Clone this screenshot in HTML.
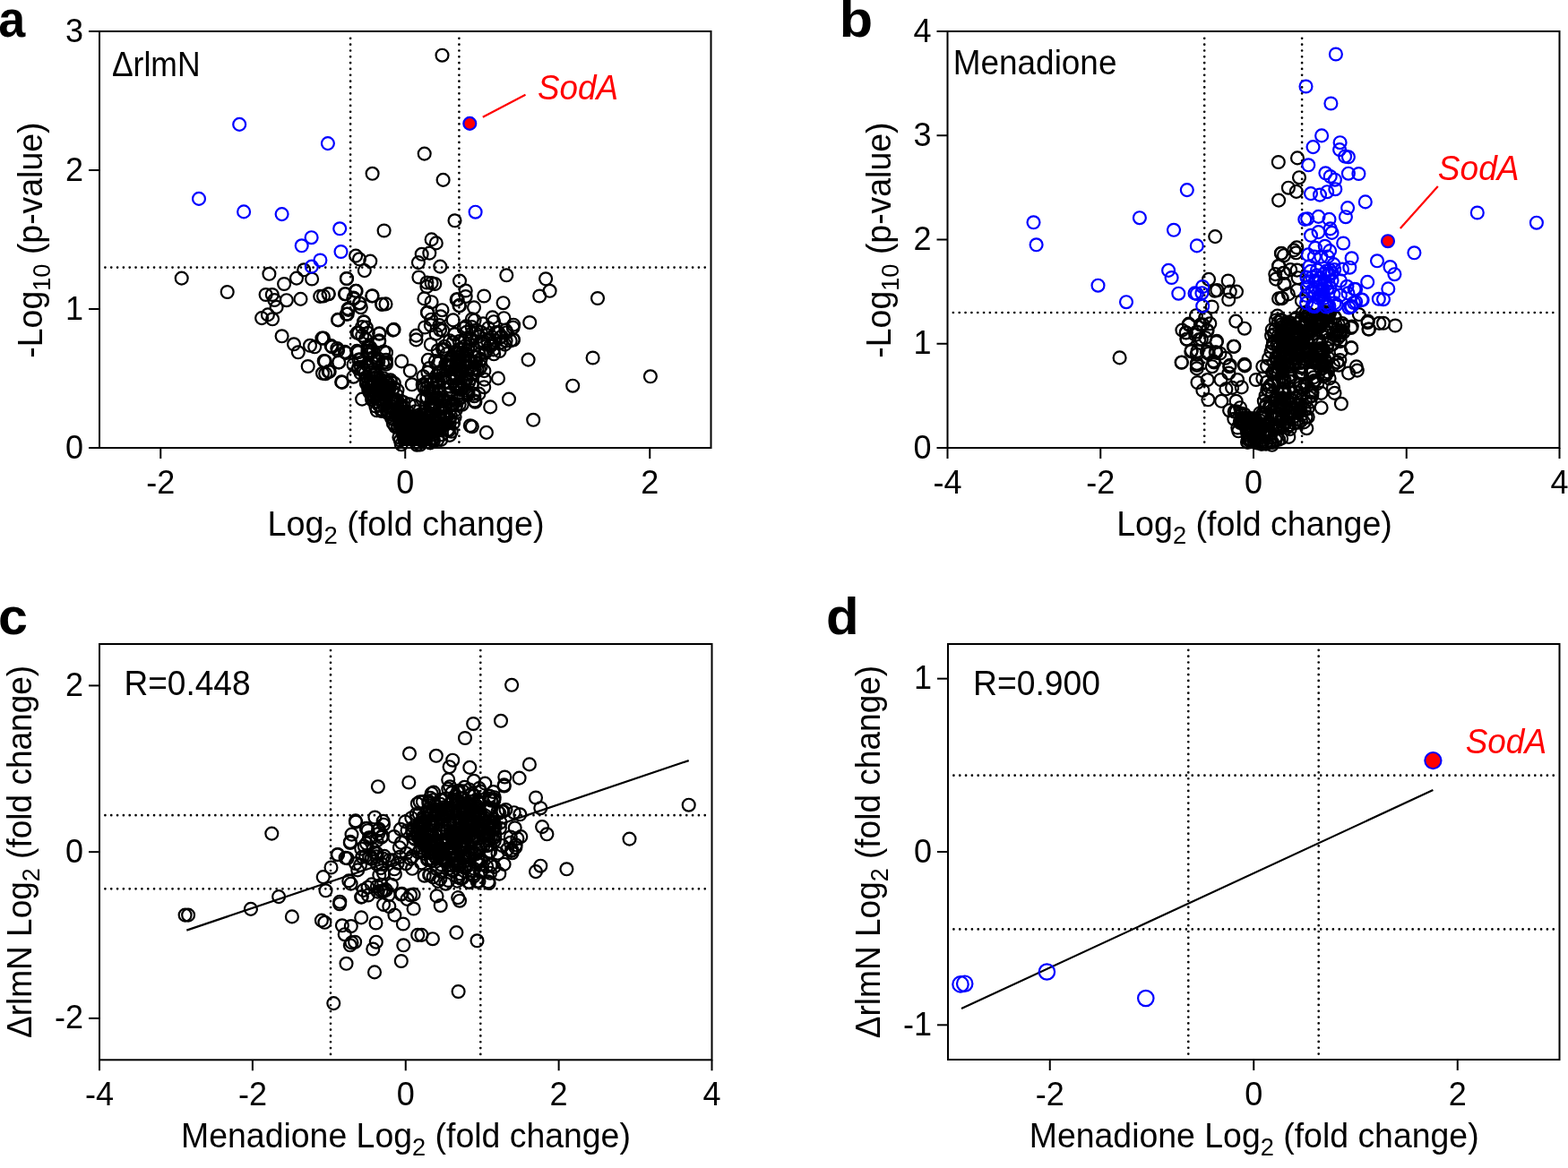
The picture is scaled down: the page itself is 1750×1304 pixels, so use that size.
<!DOCTYPE html>
<html><head><meta charset="utf-8"><style>html,body{margin:0;padding:0;background:#fff;overflow:hidden}svg{display:block}</style></head>
<body><svg width="1750" height="1304" viewBox="0 0 1750 1304" font-family='"Liberation Sans", Arial, Helvetica, sans-serif'>
<rect width="1750" height="1304" fill="#fff"/>
<line x1="391.1" y1="493.6" x2="391.1" y2="38" stroke="#000" stroke-width="2.7" stroke-linecap="round" stroke-dasharray="0 6.83"/>
<line x1="512.4" y1="493.6" x2="512.4" y2="38" stroke="#000" stroke-width="2.7" stroke-linecap="round" stroke-dasharray="0 6.83"/>
<line x1="117.4" y1="298.6" x2="790.5" y2="298.6" stroke="#000" stroke-width="2.7" stroke-linecap="round" stroke-dasharray="0 6.83"/>
<line x1="1344.2" y1="493.6" x2="1344.2" y2="38" stroke="#000" stroke-width="2.7" stroke-linecap="round" stroke-dasharray="0 6.83"/>
<line x1="1453.1" y1="493.6" x2="1453.1" y2="38" stroke="#000" stroke-width="2.7" stroke-linecap="round" stroke-dasharray="0 6.83"/>
<line x1="1063.9" y1="349.0" x2="1737.5" y2="349.0" stroke="#000" stroke-width="2.7" stroke-linecap="round" stroke-dasharray="0 6.83"/>
<line x1="369.0" y1="1176.8999999999999" x2="369.0" y2="722" stroke="#000" stroke-width="2.7" stroke-linecap="round" stroke-dasharray="0 6.83"/>
<line x1="536.3" y1="1176.8999999999999" x2="536.3" y2="722" stroke="#000" stroke-width="2.7" stroke-linecap="round" stroke-dasharray="0 6.83"/>
<line x1="117.4" y1="910.2" x2="791.5" y2="910.2" stroke="#000" stroke-width="2.7" stroke-linecap="round" stroke-dasharray="0 6.83"/>
<line x1="117.4" y1="992.3" x2="791.5" y2="992.3" stroke="#000" stroke-width="2.7" stroke-linecap="round" stroke-dasharray="0 6.83"/>
<line x1="1326.3" y1="1176.6" x2="1326.3" y2="722" stroke="#000" stroke-width="2.7" stroke-linecap="round" stroke-dasharray="0 6.83"/>
<line x1="1471.7" y1="1176.6" x2="1471.7" y2="722" stroke="#000" stroke-width="2.7" stroke-linecap="round" stroke-dasharray="0 6.83"/>
<line x1="1064.4" y1="865.7" x2="1737.5" y2="865.7" stroke="#000" stroke-width="2.7" stroke-linecap="round" stroke-dasharray="0 6.83"/>
<line x1="1064.4" y1="1037.4" x2="1737.5" y2="1037.4" stroke="#000" stroke-width="2.7" stroke-linecap="round" stroke-dasharray="0 6.83"/>
<line x1="208.3" y1="1038.6" x2="768.7" y2="849.1" stroke="#000" stroke-width="2.2"/>
<line x1="1073" y1="1126.1" x2="1599.4" y2="882.1" stroke="#000" stroke-width="2.2"/>
<path d="M437,468 L452,458 L472,458 L488,468 L482,498 L445,498 Z" fill="#000"/>
<g fill="none" stroke="#000" stroke-width="2.2">
<circle cx="426.2" cy="427.4" r="6.95"/>
<circle cx="436.1" cy="458.6" r="6.95"/>
<circle cx="423.1" cy="452.4" r="6.95"/>
<circle cx="408.6" cy="424.8" r="6.95"/>
<circle cx="422.6" cy="431.6" r="6.95"/>
<circle cx="409.7" cy="407.2" r="6.95"/>
<circle cx="408.8" cy="428.3" r="6.95"/>
<circle cx="413.3" cy="388.0" r="6.95"/>
<circle cx="402.6" cy="416.6" r="6.95"/>
<circle cx="440.5" cy="451.4" r="6.95"/>
<circle cx="447.3" cy="447.7" r="6.95"/>
<circle cx="414.1" cy="440.1" r="6.95"/>
<circle cx="450.6" cy="463.9" r="6.95"/>
<circle cx="426.8" cy="440.2" r="6.95"/>
<circle cx="439.3" cy="448.1" r="6.95"/>
<circle cx="418.6" cy="426.4" r="6.95"/>
<circle cx="427.0" cy="457.6" r="6.95"/>
<circle cx="427.8" cy="422.2" r="6.95"/>
<circle cx="419.8" cy="401.7" r="6.95"/>
<circle cx="443.5" cy="435.6" r="6.95"/>
<circle cx="431.4" cy="428.2" r="6.95"/>
<circle cx="412.0" cy="436.4" r="6.95"/>
<circle cx="444.4" cy="461.5" r="6.95"/>
<circle cx="450.8" cy="454.1" r="6.95"/>
<circle cx="430.4" cy="425.2" r="6.95"/>
<circle cx="430.9" cy="404.4" r="6.95"/>
<circle cx="426.8" cy="430.6" r="6.95"/>
<circle cx="417.5" cy="417.8" r="6.95"/>
<circle cx="428.9" cy="443.4" r="6.95"/>
<circle cx="433.6" cy="428.1" r="6.95"/>
<circle cx="449.2" cy="459.5" r="6.95"/>
<circle cx="445.2" cy="461.1" r="6.95"/>
<circle cx="416.7" cy="392.4" r="6.95"/>
<circle cx="405.6" cy="411.1" r="6.95"/>
<circle cx="439.8" cy="427.8" r="6.95"/>
<circle cx="415.3" cy="429.6" r="6.95"/>
<circle cx="421.5" cy="403.3" r="6.95"/>
<circle cx="427.1" cy="405.2" r="6.95"/>
<circle cx="433.2" cy="461.2" r="6.95"/>
<circle cx="437.7" cy="436.1" r="6.95"/>
<circle cx="419.9" cy="439.0" r="6.95"/>
<circle cx="415.2" cy="444.0" r="6.95"/>
<circle cx="410.9" cy="386.8" r="6.95"/>
<circle cx="446.6" cy="474.5" r="6.95"/>
<circle cx="430.9" cy="401.8" r="6.95"/>
<circle cx="439.4" cy="432.8" r="6.95"/>
<circle cx="418.8" cy="417.9" r="6.95"/>
<circle cx="422.3" cy="403.9" r="6.95"/>
<circle cx="413.7" cy="432.0" r="6.95"/>
<circle cx="407.7" cy="416.2" r="6.95"/>
<circle cx="416.4" cy="405.6" r="6.95"/>
<circle cx="437.5" cy="463.1" r="6.95"/>
<circle cx="450.6" cy="449.2" r="6.95"/>
<circle cx="400.3" cy="401.6" r="6.95"/>
<circle cx="442.8" cy="441.2" r="6.95"/>
<circle cx="416.4" cy="412.8" r="6.95"/>
<circle cx="444.7" cy="462.2" r="6.95"/>
<circle cx="416.5" cy="442.6" r="6.95"/>
<circle cx="431.0" cy="406.6" r="6.95"/>
<circle cx="400.1" cy="410.5" r="6.95"/>
<circle cx="402.3" cy="401.4" r="6.95"/>
<circle cx="411.0" cy="429.9" r="6.95"/>
<circle cx="432.6" cy="427.4" r="6.95"/>
<circle cx="414.7" cy="391.8" r="6.95"/>
<circle cx="438.4" cy="446.9" r="6.95"/>
<circle cx="411.3" cy="435.8" r="6.95"/>
<circle cx="414.4" cy="408.7" r="6.95"/>
<circle cx="400.1" cy="411.8" r="6.95"/>
<circle cx="436.1" cy="445.2" r="6.95"/>
<circle cx="414.3" cy="416.1" r="6.95"/>
<circle cx="416.1" cy="436.1" r="6.95"/>
<circle cx="431.5" cy="440.8" r="6.95"/>
<circle cx="410.4" cy="387.9" r="6.95"/>
<circle cx="410.4" cy="392.7" r="6.95"/>
<circle cx="443.9" cy="476.6" r="6.95"/>
<circle cx="445.6" cy="469.5" r="6.95"/>
<circle cx="448.0" cy="454.6" r="6.95"/>
<circle cx="422.3" cy="400.5" r="6.95"/>
<circle cx="440.0" cy="447.4" r="6.95"/>
<circle cx="410.9" cy="391.9" r="6.95"/>
<circle cx="455.7" cy="460.4" r="6.95"/>
<circle cx="429.6" cy="435.8" r="6.95"/>
<circle cx="419.9" cy="417.2" r="6.95"/>
<circle cx="411.3" cy="388.2" r="6.95"/>
<circle cx="435.7" cy="424.3" r="6.95"/>
<circle cx="417.4" cy="398.7" r="6.95"/>
<circle cx="402.9" cy="409.8" r="6.95"/>
<circle cx="420.3" cy="442.3" r="6.95"/>
<circle cx="428.3" cy="432.1" r="6.95"/>
<circle cx="435.9" cy="426.3" r="6.95"/>
<circle cx="436.7" cy="446.4" r="6.95"/>
<circle cx="443.9" cy="448.2" r="6.95"/>
<circle cx="431.2" cy="433.0" r="6.95"/>
<circle cx="419.8" cy="422.3" r="6.95"/>
<circle cx="446.8" cy="453.9" r="6.95"/>
<circle cx="429.0" cy="450.4" r="6.95"/>
<circle cx="424.4" cy="446.7" r="6.95"/>
<circle cx="441.7" cy="462.0" r="6.95"/>
<circle cx="434.4" cy="460.1" r="6.95"/>
<circle cx="415.1" cy="446.2" r="6.95"/>
<circle cx="427.2" cy="440.1" r="6.95"/>
<circle cx="429.0" cy="441.2" r="6.95"/>
<circle cx="411.1" cy="425.1" r="6.95"/>
<circle cx="430.8" cy="447.0" r="6.95"/>
<circle cx="433.1" cy="461.1" r="6.95"/>
<circle cx="419.3" cy="453.5" r="6.95"/>
<circle cx="433.4" cy="454.2" r="6.95"/>
<circle cx="417.6" cy="429.4" r="6.95"/>
<circle cx="424.6" cy="452.8" r="6.95"/>
<circle cx="422.9" cy="425.7" r="6.95"/>
<circle cx="438.7" cy="457.2" r="6.95"/>
<circle cx="425.8" cy="433.6" r="6.95"/>
<circle cx="442.5" cy="446.6" r="6.95"/>
<circle cx="420.8" cy="435.9" r="6.95"/>
<circle cx="427.6" cy="429.4" r="6.95"/>
<circle cx="412.9" cy="438.6" r="6.95"/>
<circle cx="441.3" cy="446.3" r="6.95"/>
<circle cx="432.1" cy="460.1" r="6.95"/>
<circle cx="411.2" cy="431.7" r="6.95"/>
<circle cx="445.2" cy="463.7" r="6.95"/>
<circle cx="447.0" cy="453.1" r="6.95"/>
<circle cx="427.9" cy="452.0" r="6.95"/>
<circle cx="432.4" cy="435.2" r="6.95"/>
<circle cx="438.8" cy="472.5" r="6.95"/>
<circle cx="437.0" cy="466.8" r="6.95"/>
<circle cx="434.5" cy="434.1" r="6.95"/>
<circle cx="414.0" cy="425.2" r="6.95"/>
<circle cx="432.6" cy="437.8" r="6.95"/>
<circle cx="430.7" cy="432.1" r="6.95"/>
<circle cx="417.0" cy="430.1" r="6.95"/>
<circle cx="425.9" cy="459.0" r="6.95"/>
<circle cx="439.9" cy="468.1" r="6.95"/>
<circle cx="442.5" cy="463.5" r="6.95"/>
<circle cx="420.6" cy="458.3" r="6.95"/>
<circle cx="423.2" cy="422.3" r="6.95"/>
<circle cx="536.6" cy="400.8" r="6.95"/>
<circle cx="529.4" cy="442.2" r="6.95"/>
<circle cx="526.6" cy="380.0" r="6.95"/>
<circle cx="509.6" cy="412.6" r="6.95"/>
<circle cx="511.2" cy="395.2" r="6.95"/>
<circle cx="513.4" cy="402.2" r="6.95"/>
<circle cx="503.8" cy="481.8" r="6.95"/>
<circle cx="520.3" cy="435.8" r="6.95"/>
<circle cx="537.2" cy="383.2" r="6.95"/>
<circle cx="569.7" cy="380.4" r="6.95"/>
<circle cx="513.0" cy="431.6" r="6.95"/>
<circle cx="500.9" cy="480.5" r="6.95"/>
<circle cx="485.9" cy="403.1" r="6.95"/>
<circle cx="540.0" cy="381.1" r="6.95"/>
<circle cx="517.9" cy="429.9" r="6.95"/>
<circle cx="534.5" cy="439.6" r="6.95"/>
<circle cx="496.1" cy="386.8" r="6.95"/>
<circle cx="531.4" cy="368.5" r="6.95"/>
<circle cx="563.5" cy="384.6" r="6.95"/>
<circle cx="545.1" cy="366.2" r="6.95"/>
<circle cx="534.7" cy="395.9" r="6.95"/>
<circle cx="486.5" cy="479.5" r="6.95"/>
<circle cx="472.8" cy="430.5" r="6.95"/>
<circle cx="557.5" cy="392.0" r="6.95"/>
<circle cx="484.6" cy="480.2" r="6.95"/>
<circle cx="508.7" cy="457.5" r="6.95"/>
<circle cx="480.3" cy="451.4" r="6.95"/>
<circle cx="470.2" cy="490.5" r="6.95"/>
<circle cx="463.7" cy="459.2" r="6.95"/>
<circle cx="552.9" cy="379.8" r="6.95"/>
<circle cx="481.6" cy="454.0" r="6.95"/>
<circle cx="572.9" cy="379.0" r="6.95"/>
<circle cx="514.3" cy="389.3" r="6.95"/>
<circle cx="535.6" cy="401.9" r="6.95"/>
<circle cx="472.4" cy="420.2" r="6.95"/>
<circle cx="559.8" cy="375.7" r="6.95"/>
<circle cx="527.0" cy="412.5" r="6.95"/>
<circle cx="519.1" cy="378.0" r="6.95"/>
<circle cx="529.4" cy="416.3" r="6.95"/>
<circle cx="471.7" cy="446.1" r="6.95"/>
<circle cx="487.1" cy="419.7" r="6.95"/>
<circle cx="489.2" cy="440.1" r="6.95"/>
<circle cx="541.1" cy="393.6" r="6.95"/>
<circle cx="508.7" cy="431.0" r="6.95"/>
<circle cx="507.1" cy="373.4" r="6.95"/>
<circle cx="542.7" cy="391.4" r="6.95"/>
<circle cx="519.7" cy="422.5" r="6.95"/>
<circle cx="495.9" cy="447.1" r="6.95"/>
<circle cx="484.8" cy="483.8" r="6.95"/>
<circle cx="509.9" cy="429.0" r="6.95"/>
<circle cx="526.6" cy="365.1" r="6.95"/>
<circle cx="508.1" cy="430.9" r="6.95"/>
<circle cx="529.9" cy="398.2" r="6.95"/>
<circle cx="463.0" cy="453.1" r="6.95"/>
<circle cx="507.3" cy="425.4" r="6.95"/>
<circle cx="484.4" cy="439.7" r="6.95"/>
<circle cx="469.5" cy="462.8" r="6.95"/>
<circle cx="482.6" cy="437.3" r="6.95"/>
<circle cx="505.1" cy="422.3" r="6.95"/>
<circle cx="469.9" cy="476.0" r="6.95"/>
<circle cx="539.2" cy="361.4" r="6.95"/>
<circle cx="501.3" cy="421.4" r="6.95"/>
<circle cx="551.2" cy="395.3" r="6.95"/>
<circle cx="520.4" cy="424.3" r="6.95"/>
<circle cx="494.4" cy="390.1" r="6.95"/>
<circle cx="516.1" cy="394.0" r="6.95"/>
<circle cx="509.2" cy="452.3" r="6.95"/>
<circle cx="553.4" cy="371.3" r="6.95"/>
<circle cx="477.4" cy="415.8" r="6.95"/>
<circle cx="534.2" cy="375.8" r="6.95"/>
<circle cx="494.4" cy="390.2" r="6.95"/>
<circle cx="510.5" cy="430.7" r="6.95"/>
<circle cx="473.5" cy="433.1" r="6.95"/>
<circle cx="471.7" cy="429.7" r="6.95"/>
<circle cx="541.8" cy="393.7" r="6.95"/>
<circle cx="540.4" cy="414.1" r="6.95"/>
<circle cx="525.7" cy="378.1" r="6.95"/>
<circle cx="481.2" cy="428.8" r="6.95"/>
<circle cx="515.4" cy="414.2" r="6.95"/>
<circle cx="540.7" cy="423.6" r="6.95"/>
<circle cx="486.3" cy="444.2" r="6.95"/>
<circle cx="506.4" cy="450.6" r="6.95"/>
<circle cx="472.2" cy="471.2" r="6.95"/>
<circle cx="547.6" cy="385.7" r="6.95"/>
<circle cx="482.5" cy="469.6" r="6.95"/>
<circle cx="476.4" cy="443.0" r="6.95"/>
<circle cx="510.0" cy="393.2" r="6.95"/>
<circle cx="524.9" cy="422.8" r="6.95"/>
<circle cx="484.0" cy="492.2" r="6.95"/>
<circle cx="515.7" cy="451.7" r="6.95"/>
<circle cx="498.7" cy="395.1" r="6.95"/>
<circle cx="469.8" cy="462.6" r="6.95"/>
<circle cx="480.5" cy="462.1" r="6.95"/>
<circle cx="558.6" cy="376.7" r="6.95"/>
<circle cx="479.2" cy="411.0" r="6.95"/>
<circle cx="513.4" cy="398.9" r="6.95"/>
<circle cx="521.7" cy="411.1" r="6.95"/>
<circle cx="495.7" cy="448.1" r="6.95"/>
<circle cx="515.6" cy="432.8" r="6.95"/>
<circle cx="564.3" cy="368.6" r="6.95"/>
<circle cx="534.8" cy="412.5" r="6.95"/>
<circle cx="556.0" cy="370.9" r="6.95"/>
<circle cx="532.5" cy="412.3" r="6.95"/>
<circle cx="495.7" cy="390.3" r="6.95"/>
<circle cx="512.6" cy="390.2" r="6.95"/>
<circle cx="492.2" cy="490.9" r="6.95"/>
<circle cx="473.5" cy="471.6" r="6.95"/>
<circle cx="503.7" cy="408.6" r="6.95"/>
<circle cx="512.6" cy="381.1" r="6.95"/>
<circle cx="510.8" cy="398.5" r="6.95"/>
<circle cx="510.8" cy="446.8" r="6.95"/>
<circle cx="482.3" cy="452.2" r="6.95"/>
<circle cx="503.1" cy="407.4" r="6.95"/>
<circle cx="550.8" cy="390.4" r="6.95"/>
<circle cx="506.1" cy="472.3" r="6.95"/>
<circle cx="499.5" cy="479.9" r="6.95"/>
<circle cx="493.8" cy="444.4" r="6.95"/>
<circle cx="536.7" cy="409.0" r="6.95"/>
<circle cx="505.5" cy="382.3" r="6.95"/>
<circle cx="481.9" cy="491.3" r="6.95"/>
<circle cx="500.5" cy="407.9" r="6.95"/>
<circle cx="522.2" cy="390.9" r="6.95"/>
<circle cx="493.0" cy="446.5" r="6.95"/>
<circle cx="477.8" cy="401.9" r="6.95"/>
<circle cx="565.6" cy="371.2" r="6.95"/>
<circle cx="489.2" cy="416.4" r="6.95"/>
<circle cx="489.1" cy="405.6" r="6.95"/>
<circle cx="488.7" cy="391.3" r="6.95"/>
<circle cx="529.9" cy="404.7" r="6.95"/>
<circle cx="503.0" cy="464.6" r="6.95"/>
<circle cx="549.0" cy="376.4" r="6.95"/>
<circle cx="499.1" cy="464.6" r="6.95"/>
<circle cx="529.9" cy="412.8" r="6.95"/>
<circle cx="514.4" cy="444.0" r="6.95"/>
<circle cx="496.7" cy="474.3" r="6.95"/>
<circle cx="528.4" cy="439.6" r="6.95"/>
<circle cx="512.3" cy="415.2" r="6.95"/>
<circle cx="520.2" cy="364.4" r="6.95"/>
<circle cx="475.3" cy="488.1" r="6.95"/>
<circle cx="551.1" cy="359.2" r="6.95"/>
<circle cx="536.6" cy="370.8" r="6.95"/>
<circle cx="466.4" cy="482.7" r="6.95"/>
<circle cx="488.1" cy="424.8" r="6.95"/>
<circle cx="524.1" cy="377.2" r="6.95"/>
<circle cx="517.6" cy="366.4" r="6.95"/>
<circle cx="483.4" cy="485.5" r="6.95"/>
<circle cx="476.6" cy="426.3" r="6.95"/>
<circle cx="503.7" cy="444.4" r="6.95"/>
<circle cx="564.6" cy="380.6" r="6.95"/>
<circle cx="472.7" cy="471.5" r="6.95"/>
<circle cx="530.0" cy="399.2" r="6.95"/>
<circle cx="509.5" cy="421.9" r="6.95"/>
<circle cx="525.4" cy="409.3" r="6.95"/>
<circle cx="512.7" cy="451.4" r="6.95"/>
<circle cx="483.3" cy="489.5" r="6.95"/>
<circle cx="486.9" cy="470.1" r="6.95"/>
<circle cx="475.5" cy="475.0" r="6.95"/>
<circle cx="510.6" cy="404.2" r="6.95"/>
<circle cx="499.8" cy="440.9" r="6.95"/>
<circle cx="493.4" cy="456.8" r="6.95"/>
<circle cx="527.2" cy="417.7" r="6.95"/>
<circle cx="491.0" cy="448.1" r="6.95"/>
<circle cx="485.9" cy="449.6" r="6.95"/>
<circle cx="502.3" cy="431.6" r="6.95"/>
<circle cx="511.0" cy="442.1" r="6.95"/>
<circle cx="489.8" cy="431.5" r="6.95"/>
<circle cx="525.8" cy="402.7" r="6.95"/>
<circle cx="502.5" cy="422.3" r="6.95"/>
<circle cx="487.9" cy="423.2" r="6.95"/>
<circle cx="501.8" cy="471.7" r="6.95"/>
<circle cx="509.2" cy="406.0" r="6.95"/>
<circle cx="493.4" cy="475.3" r="6.95"/>
<circle cx="522.5" cy="438.8" r="6.95"/>
<circle cx="501.0" cy="448.4" r="6.95"/>
<circle cx="497.6" cy="464.1" r="6.95"/>
<circle cx="509.0" cy="422.8" r="6.95"/>
<circle cx="508.4" cy="421.4" r="6.95"/>
<circle cx="477.4" cy="460.2" r="6.95"/>
<circle cx="495.0" cy="413.5" r="6.95"/>
<circle cx="523.9" cy="403.7" r="6.95"/>
<circle cx="497.4" cy="406.7" r="6.95"/>
<circle cx="489.0" cy="465.0" r="6.95"/>
<circle cx="522.7" cy="387.3" r="6.95"/>
<circle cx="479.6" cy="437.9" r="6.95"/>
<circle cx="491.5" cy="466.7" r="6.95"/>
<circle cx="514.0" cy="435.1" r="6.95"/>
<circle cx="510.5" cy="401.2" r="6.95"/>
<circle cx="522.5" cy="409.5" r="6.95"/>
<circle cx="488.9" cy="479.2" r="6.95"/>
<circle cx="491.4" cy="454.5" r="6.95"/>
<circle cx="477.7" cy="472.5" r="6.95"/>
<circle cx="490.2" cy="477.5" r="6.95"/>
<circle cx="500.3" cy="404.5" r="6.95"/>
<circle cx="522.0" cy="440.1" r="6.95"/>
<circle cx="531.0" cy="404.8" r="6.95"/>
<circle cx="493.1" cy="480.4" r="6.95"/>
<circle cx="516.9" cy="426.5" r="6.95"/>
<circle cx="509.8" cy="405.3" r="6.95"/>
<circle cx="476.2" cy="445.4" r="6.95"/>
<circle cx="501.2" cy="468.6" r="6.95"/>
<circle cx="521.1" cy="394.6" r="6.95"/>
<circle cx="526.7" cy="429.3" r="6.95"/>
<circle cx="507.6" cy="465.5" r="6.95"/>
<circle cx="488.2" cy="491.0" r="6.95"/>
<circle cx="509.6" cy="419.2" r="6.95"/>
<circle cx="495.7" cy="420.4" r="6.95"/>
<circle cx="477.7" cy="436.4" r="6.95"/>
<circle cx="493.7" cy="422.9" r="6.95"/>
<circle cx="520.3" cy="417.6" r="6.95"/>
<circle cx="500.3" cy="407.8" r="6.95"/>
<circle cx="520.8" cy="396.2" r="6.95"/>
<circle cx="498.1" cy="472.3" r="6.95"/>
<circle cx="488.7" cy="425.8" r="6.95"/>
<circle cx="496.7" cy="453.5" r="6.95"/>
<circle cx="490.1" cy="415.3" r="6.95"/>
<circle cx="476.3" cy="433.8" r="6.95"/>
<circle cx="518.0" cy="407.7" r="6.95"/>
<circle cx="497.6" cy="454.0" r="6.95"/>
<circle cx="488.5" cy="427.7" r="6.95"/>
<circle cx="503.2" cy="403.0" r="6.95"/>
<circle cx="493.1" cy="485.2" r="6.95"/>
<circle cx="483.5" cy="479.8" r="6.95"/>
<circle cx="518.3" cy="408.6" r="6.95"/>
<circle cx="501.4" cy="459.1" r="6.95"/>
<circle cx="504.3" cy="450.3" r="6.95"/>
<circle cx="482.0" cy="445.0" r="6.95"/>
<circle cx="489.7" cy="472.0" r="6.95"/>
<circle cx="504.8" cy="408.9" r="6.95"/>
<circle cx="506.4" cy="417.8" r="6.95"/>
<circle cx="517.9" cy="397.7" r="6.95"/>
<circle cx="490.9" cy="455.5" r="6.95"/>
<circle cx="495.5" cy="473.1" r="6.95"/>
<circle cx="483.0" cy="432.8" r="6.95"/>
<circle cx="496.1" cy="460.8" r="6.95"/>
<circle cx="504.6" cy="409.0" r="6.95"/>
<circle cx="478.0" cy="478.7" r="6.95"/>
<circle cx="470.7" cy="475.1" r="6.95"/>
<circle cx="507.8" cy="420.8" r="6.95"/>
<circle cx="494.8" cy="464.7" r="6.95"/>
<circle cx="481.4" cy="472.5" r="6.95"/>
<circle cx="489.0" cy="445.7" r="6.95"/>
<circle cx="475.8" cy="483.8" r="6.95"/>
<circle cx="501.9" cy="401.2" r="6.95"/>
<circle cx="496.2" cy="426.3" r="6.95"/>
<circle cx="523.1" cy="426.7" r="6.95"/>
<circle cx="485.3" cy="451.5" r="6.95"/>
<circle cx="519.0" cy="402.5" r="6.95"/>
<circle cx="484.9" cy="454.7" r="6.95"/>
<circle cx="468.8" cy="474.0" r="6.95"/>
<circle cx="487.1" cy="475.7" r="6.95"/>
<circle cx="520.7" cy="370.8" r="6.95"/>
<circle cx="572.6" cy="365.6" r="6.95"/>
<circle cx="526.8" cy="372.3" r="6.95"/>
<circle cx="491.1" cy="368.2" r="6.95"/>
<circle cx="540.2" cy="383.6" r="6.95"/>
<circle cx="481.2" cy="356.7" r="6.95"/>
<circle cx="480.8" cy="384.5" r="6.95"/>
<circle cx="542.9" cy="373.9" r="6.95"/>
<circle cx="529.0" cy="343.3" r="6.95"/>
<circle cx="491.8" cy="353.3" r="6.95"/>
<circle cx="474.1" cy="365.5" r="6.95"/>
<circle cx="519.3" cy="386.3" r="6.95"/>
<circle cx="444.4" cy="476.2" r="6.95"/>
<circle cx="476.3" cy="486.2" r="6.95"/>
<circle cx="474.3" cy="475.3" r="6.95"/>
<circle cx="477.8" cy="479.3" r="6.95"/>
<circle cx="441.1" cy="476.2" r="6.95"/>
<circle cx="485.3" cy="471.4" r="6.95"/>
<circle cx="452.8" cy="488.7" r="6.95"/>
<circle cx="447.4" cy="465.1" r="6.95"/>
<circle cx="446.6" cy="471.9" r="6.95"/>
<circle cx="468.9" cy="496.5" r="6.95"/>
<circle cx="447.8" cy="496.2" r="6.95"/>
<circle cx="465.3" cy="494.0" r="6.95"/>
<circle cx="478.7" cy="464.4" r="6.95"/>
<circle cx="470.1" cy="463.0" r="6.95"/>
<circle cx="476.4" cy="480.6" r="6.95"/>
<circle cx="446.8" cy="491.6" r="6.95"/>
<circle cx="483.6" cy="467.5" r="6.95"/>
<circle cx="459.9" cy="483.5" r="6.95"/>
<circle cx="465.3" cy="496.7" r="6.95"/>
<circle cx="468.1" cy="486.7" r="6.95"/>
<circle cx="476.5" cy="478.3" r="6.95"/>
<circle cx="451.8" cy="481.6" r="6.95"/>
<circle cx="463.9" cy="471.7" r="6.95"/>
<circle cx="480.6" cy="472.5" r="6.95"/>
<circle cx="461.7" cy="488.5" r="6.95"/>
<circle cx="478.5" cy="493.6" r="6.95"/>
<circle cx="470.2" cy="468.1" r="6.95"/>
<circle cx="480.2" cy="494.4" r="6.95"/>
<circle cx="473.5" cy="488.7" r="6.95"/>
<circle cx="463.2" cy="477.7" r="6.95"/>
<circle cx="466.7" cy="463.9" r="6.95"/>
<circle cx="471.5" cy="492.5" r="6.95"/>
<circle cx="445.4" cy="488.2" r="6.95"/>
<circle cx="473.0" cy="462.8" r="6.95"/>
<circle cx="448.2" cy="470.4" r="6.95"/>
<circle cx="468.7" cy="484.0" r="6.95"/>
<circle cx="475.2" cy="480.7" r="6.95"/>
<circle cx="493.5" cy="61.7" r="6.95"/>
<circle cx="473.7" cy="171.6" r="6.95"/>
<circle cx="415.6" cy="193.8" r="6.95"/>
<circle cx="494.6" cy="200.9" r="6.95"/>
<circle cx="428.6" cy="257.5" r="6.95"/>
<circle cx="507.5" cy="246.3" r="6.95"/>
<circle cx="397.1" cy="285.6" r="6.95"/>
<circle cx="401.0" cy="289.3" r="6.95"/>
<circle cx="413.3" cy="291.6" r="6.95"/>
<circle cx="406.8" cy="302.1" r="6.95"/>
<circle cx="339.2" cy="301.3" r="6.95"/>
<circle cx="300.4" cy="305.8" r="6.95"/>
<circle cx="202.7" cy="310.6" r="6.95"/>
<circle cx="331.0" cy="310.6" r="6.95"/>
<circle cx="348.1" cy="311.5" r="6.95"/>
<circle cx="387.1" cy="311.0" r="6.95"/>
<circle cx="317.1" cy="317.0" r="6.95"/>
<circle cx="253.7" cy="326.0" r="6.95"/>
<circle cx="296.6" cy="329.0" r="6.95"/>
<circle cx="303.8" cy="329.0" r="6.95"/>
<circle cx="306.3" cy="335.0" r="6.95"/>
<circle cx="319.8" cy="335.2" r="6.95"/>
<circle cx="335.5" cy="333.9" r="6.95"/>
<circle cx="357.2" cy="330.9" r="6.95"/>
<circle cx="366.6" cy="328.2" r="6.95"/>
<circle cx="385.6" cy="328.2" r="6.95"/>
<circle cx="397.6" cy="324.9" r="6.95"/>
<circle cx="394.6" cy="333.5" r="6.95"/>
<circle cx="401.3" cy="338.7" r="6.95"/>
<circle cx="402.8" cy="343.2" r="6.95"/>
<circle cx="415.2" cy="330.5" r="6.95"/>
<circle cx="426.4" cy="339.7" r="6.95"/>
<circle cx="388.6" cy="344.7" r="6.95"/>
<circle cx="387.8" cy="350.6" r="6.95"/>
<circle cx="377.1" cy="356.9" r="6.95"/>
<circle cx="308.6" cy="342.9" r="6.95"/>
<circle cx="292.1" cy="355.1" r="6.95"/>
<circle cx="298.9" cy="351.4" r="6.95"/>
<circle cx="304.1" cy="356.3" r="6.95"/>
<circle cx="406.1" cy="359.6" r="6.95"/>
<circle cx="408.8" cy="365.6" r="6.95"/>
<circle cx="398.6" cy="371.6" r="6.95"/>
<circle cx="404.3" cy="374.6" r="6.95"/>
<circle cx="423.4" cy="372.3" r="6.95"/>
<circle cx="423.0" cy="381.3" r="6.95"/>
<circle cx="438.7" cy="368.6" r="6.95"/>
<circle cx="314.6" cy="375.3" r="6.95"/>
<circle cx="328.0" cy="384.3" r="6.95"/>
<circle cx="332.8" cy="393.3" r="6.95"/>
<circle cx="346.0" cy="385.8" r="6.95"/>
<circle cx="351.2" cy="387.3" r="6.95"/>
<circle cx="359.4" cy="377.6" r="6.95"/>
<circle cx="370.6" cy="387.3" r="6.95"/>
<circle cx="377.1" cy="391.3" r="6.95"/>
<circle cx="386.3" cy="394.0" r="6.95"/>
<circle cx="399.8" cy="393.3" r="6.95"/>
<circle cx="411.0" cy="395.5" r="6.95"/>
<circle cx="428.2" cy="392.5" r="6.95"/>
<circle cx="343.7" cy="409.0" r="6.95"/>
<circle cx="361.7" cy="403.0" r="6.95"/>
<circle cx="378.1" cy="404.5" r="6.95"/>
<circle cx="363.2" cy="417.2" r="6.95"/>
<circle cx="367.7" cy="414.9" r="6.95"/>
<circle cx="381.9" cy="426.9" r="6.95"/>
<circle cx="481.6" cy="267.4" r="6.95"/>
<circle cx="486.8" cy="271.4" r="6.95"/>
<circle cx="470.7" cy="283.8" r="6.95"/>
<circle cx="479.3" cy="282.6" r="6.95"/>
<circle cx="466.9" cy="293.1" r="6.95"/>
<circle cx="491.3" cy="297.6" r="6.95"/>
<circle cx="565.3" cy="307.3" r="6.95"/>
<circle cx="609.1" cy="311.3" r="6.95"/>
<circle cx="613.6" cy="324.8" r="6.95"/>
<circle cx="602.2" cy="330.5" r="6.95"/>
<circle cx="667.0" cy="333.0" r="6.95"/>
<circle cx="540.2" cy="330.5" r="6.95"/>
<circle cx="561.6" cy="338.2" r="6.95"/>
<circle cx="513.0" cy="313.6" r="6.95"/>
<circle cx="519.7" cy="324.5" r="6.95"/>
<circle cx="519.7" cy="331.0" r="6.95"/>
<circle cx="510.7" cy="334.2" r="6.95"/>
<circle cx="513.0" cy="341.4" r="6.95"/>
<circle cx="467.4" cy="309.5" r="6.95"/>
<circle cx="476.4" cy="315.5" r="6.95"/>
<circle cx="481.6" cy="316.0" r="6.95"/>
<circle cx="485.3" cy="317.0" r="6.95"/>
<circle cx="476.4" cy="320.0" r="6.95"/>
<circle cx="473.4" cy="333.4" r="6.95"/>
<circle cx="481.6" cy="337.2" r="6.95"/>
<circle cx="493.5" cy="346.2" r="6.95"/>
<circle cx="477.1" cy="349.1" r="6.95"/>
<circle cx="430.5" cy="339.4" r="6.95"/>
<circle cx="591.2" cy="360.0" r="6.95"/>
<circle cx="573.1" cy="362.7" r="6.95"/>
<circle cx="562.4" cy="355.2" r="6.95"/>
<circle cx="549.6" cy="354.4" r="6.95"/>
<circle cx="529.6" cy="357.6" r="6.95"/>
<circle cx="572.8" cy="379.5" r="6.95"/>
<circle cx="559.2" cy="382.4" r="6.95"/>
<circle cx="547.2" cy="386.4" r="6.95"/>
<circle cx="589.6" cy="401.6" r="6.95"/>
<circle cx="661.6" cy="399.5" r="6.95"/>
<circle cx="725.9" cy="420.3" r="6.95"/>
<circle cx="639.2" cy="430.7" r="6.95"/>
<circle cx="556.0" cy="422.4" r="6.95"/>
<circle cx="568.0" cy="445.6" r="6.95"/>
<circle cx="547.2" cy="454.4" r="6.95"/>
<circle cx="530.4" cy="448.8" r="6.95"/>
<circle cx="595.2" cy="468.8" r="6.95"/>
<circle cx="542.9" cy="482.9" r="6.95"/>
<circle cx="524.8" cy="475.2" r="6.95"/>
<circle cx="480.8" cy="363.1" r="6.95"/>
<circle cx="490.4" cy="363.1" r="6.95"/>
<circle cx="494.2" cy="368.9" r="6.95"/>
<circle cx="486.6" cy="372.7" r="6.95"/>
<circle cx="464.5" cy="374.6" r="6.95"/>
<circle cx="464.5" cy="379.4" r="6.95"/>
<circle cx="501.9" cy="380.4" r="6.95"/>
<circle cx="507.7" cy="372.7" r="6.95"/>
<circle cx="544.1" cy="380.4" r="6.95"/>
<circle cx="505.7" cy="357.4" r="6.95"/>
<circle cx="526.8" cy="356.4" r="6.95"/>
<circle cx="526.8" cy="476.3" r="6.95"/>
<circle cx="501.9" cy="485.9" r="6.95"/>
<circle cx="529.7" cy="447.5" r="6.95"/>
<circle cx="540.2" cy="432.2" r="6.95"/>
<circle cx="477.0" cy="348.8" r="6.95"/>
<circle cx="509.6" cy="334.4" r="6.95"/>
<circle cx="512.4" cy="341.1" r="6.95"/>
<circle cx="386.8" cy="311.0" r="6.95"/>
<circle cx="366.7" cy="328.2" r="6.95"/>
<circle cx="361.0" cy="330.5" r="6.95"/>
<circle cx="384.9" cy="328.2" r="6.95"/>
<circle cx="397.0" cy="324.8" r="6.95"/>
<circle cx="394.5" cy="332.5" r="6.95"/>
<circle cx="401.2" cy="338.2" r="6.95"/>
<circle cx="388.8" cy="345.9" r="6.95"/>
<circle cx="386.8" cy="350.7" r="6.95"/>
<circle cx="415.6" cy="330.2" r="6.95"/>
<circle cx="426.2" cy="339.7" r="6.95"/>
<circle cx="377.3" cy="357.4" r="6.95"/>
<circle cx="406.0" cy="359.3" r="6.95"/>
<circle cx="404.1" cy="365.0" r="6.95"/>
<circle cx="400.3" cy="371.8" r="6.95"/>
<circle cx="410.8" cy="371.8" r="6.95"/>
<circle cx="407.9" cy="378.5" r="6.95"/>
<circle cx="423.3" cy="372.7" r="6.95"/>
<circle cx="423.3" cy="380.4" r="6.95"/>
<circle cx="439.6" cy="367.9" r="6.95"/>
<circle cx="361.0" cy="377.5" r="6.95"/>
<circle cx="369.6" cy="386.1" r="6.95"/>
<circle cx="376.3" cy="389.0" r="6.95"/>
<circle cx="384.9" cy="392.9" r="6.95"/>
<circle cx="378.2" cy="404.4" r="6.95"/>
<circle cx="362.9" cy="403.4" r="6.95"/>
<circle cx="366.7" cy="414.9" r="6.95"/>
<circle cx="360.0" cy="416.8" r="6.95"/>
<circle cx="381.1" cy="426.4" r="6.95"/>
<circle cx="398.4" cy="391.9" r="6.95"/>
<circle cx="411.8" cy="395.7" r="6.95"/>
<circle cx="431.0" cy="393.8" r="6.95"/>
<circle cx="448.2" cy="403.4" r="6.95"/>
<circle cx="394.5" cy="407.2" r="6.95"/>
<circle cx="404.1" cy="445.6" r="6.95"/>
<circle cx="432.9" cy="432.2" r="6.95"/>
<circle cx="456.8" cy="451.3" r="6.95"/>
<circle cx="457.8" cy="414.0" r="6.95"/>
<circle cx="459.7" cy="429.3" r="6.95"/>
<circle cx="394.5" cy="420.7" r="6.95"/>
</g>
<g fill="none" stroke="#0000ff" stroke-width="2.2">
<circle cx="267.2" cy="138.9" r="6.95"/>
<circle cx="365.9" cy="160.1" r="6.95"/>
<circle cx="222.0" cy="221.9" r="6.95"/>
<circle cx="272.1" cy="236.4" r="6.95"/>
<circle cx="314.6" cy="239.1" r="6.95"/>
<circle cx="379.2" cy="255.3" r="6.95"/>
<circle cx="347.6" cy="265.2" r="6.95"/>
<circle cx="336.7" cy="274.3" r="6.95"/>
<circle cx="380.5" cy="281.0" r="6.95"/>
<circle cx="357.4" cy="290.5" r="6.95"/>
<circle cx="347.8" cy="297.6" r="6.95"/>
<circle cx="530.6" cy="236.7" r="6.95"/>
</g>
<g fill="none" stroke="#000" stroke-width="2.2">
<circle cx="1418.7" cy="429.1" r="6.95"/>
<circle cx="1433.4" cy="438.0" r="6.95"/>
<circle cx="1462.1" cy="357.8" r="6.95"/>
<circle cx="1421.0" cy="382.9" r="6.95"/>
<circle cx="1463.6" cy="370.4" r="6.95"/>
<circle cx="1450.6" cy="458.4" r="6.95"/>
<circle cx="1467.2" cy="357.5" r="6.95"/>
<circle cx="1425.7" cy="352.6" r="6.95"/>
<circle cx="1436.2" cy="467.3" r="6.95"/>
<circle cx="1490.4" cy="362.5" r="6.95"/>
<circle cx="1462.2" cy="392.9" r="6.95"/>
<circle cx="1448.8" cy="405.5" r="6.95"/>
<circle cx="1431.3" cy="435.2" r="6.95"/>
<circle cx="1467.2" cy="372.3" r="6.95"/>
<circle cx="1471.9" cy="379.5" r="6.95"/>
<circle cx="1423.9" cy="357.5" r="6.95"/>
<circle cx="1438.0" cy="370.5" r="6.95"/>
<circle cx="1424.9" cy="462.5" r="6.95"/>
<circle cx="1489.7" cy="354.6" r="6.95"/>
<circle cx="1460.8" cy="354.7" r="6.95"/>
<circle cx="1472.5" cy="397.3" r="6.95"/>
<circle cx="1426.7" cy="359.5" r="6.95"/>
<circle cx="1459.2" cy="352.7" r="6.95"/>
<circle cx="1414.1" cy="408.8" r="6.95"/>
<circle cx="1460.4" cy="371.3" r="6.95"/>
<circle cx="1427.1" cy="490.8" r="6.95"/>
<circle cx="1492.4" cy="404.3" r="6.95"/>
<circle cx="1443.6" cy="425.5" r="6.95"/>
<circle cx="1464.1" cy="436.8" r="6.95"/>
<circle cx="1454.6" cy="440.4" r="6.95"/>
<circle cx="1440.3" cy="455.3" r="6.95"/>
<circle cx="1418.6" cy="392.9" r="6.95"/>
<circle cx="1453.4" cy="349.7" r="6.95"/>
<circle cx="1438.5" cy="434.4" r="6.95"/>
<circle cx="1462.8" cy="357.0" r="6.95"/>
<circle cx="1462.3" cy="417.5" r="6.95"/>
<circle cx="1468.1" cy="400.5" r="6.95"/>
<circle cx="1420.1" cy="416.0" r="6.95"/>
<circle cx="1458.4" cy="395.7" r="6.95"/>
<circle cx="1432.8" cy="394.6" r="6.95"/>
<circle cx="1433.3" cy="436.7" r="6.95"/>
<circle cx="1425.6" cy="404.2" r="6.95"/>
<circle cx="1478.5" cy="352.0" r="6.95"/>
<circle cx="1455.8" cy="457.5" r="6.95"/>
<circle cx="1426.7" cy="381.2" r="6.95"/>
<circle cx="1482.0" cy="383.6" r="6.95"/>
<circle cx="1470.2" cy="363.2" r="6.95"/>
<circle cx="1428.1" cy="397.7" r="6.95"/>
<circle cx="1487.8" cy="373.2" r="6.95"/>
<circle cx="1429.7" cy="444.9" r="6.95"/>
<circle cx="1451.3" cy="376.4" r="6.95"/>
<circle cx="1482.3" cy="399.4" r="6.95"/>
<circle cx="1480.9" cy="388.4" r="6.95"/>
<circle cx="1430.8" cy="410.1" r="6.95"/>
<circle cx="1439.0" cy="409.0" r="6.95"/>
<circle cx="1495.1" cy="371.2" r="6.95"/>
<circle cx="1495.9" cy="381.1" r="6.95"/>
<circle cx="1466.3" cy="425.3" r="6.95"/>
<circle cx="1424.4" cy="398.8" r="6.95"/>
<circle cx="1457.9" cy="390.8" r="6.95"/>
<circle cx="1482.7" cy="354.7" r="6.95"/>
<circle cx="1466.2" cy="426.2" r="6.95"/>
<circle cx="1438.3" cy="487.9" r="6.95"/>
<circle cx="1460.6" cy="398.9" r="6.95"/>
<circle cx="1420.3" cy="476.4" r="6.95"/>
<circle cx="1445.4" cy="464.6" r="6.95"/>
<circle cx="1431.4" cy="377.4" r="6.95"/>
<circle cx="1451.9" cy="469.7" r="6.95"/>
<circle cx="1411.2" cy="466.0" r="6.95"/>
<circle cx="1484.2" cy="349.1" r="6.95"/>
<circle cx="1422.1" cy="426.6" r="6.95"/>
<circle cx="1439.4" cy="418.5" r="6.95"/>
<circle cx="1479.0" cy="348.3" r="6.95"/>
<circle cx="1427.4" cy="394.9" r="6.95"/>
<circle cx="1431.3" cy="444.4" r="6.95"/>
<circle cx="1457.7" cy="401.8" r="6.95"/>
<circle cx="1472.2" cy="404.7" r="6.95"/>
<circle cx="1433.8" cy="438.1" r="6.95"/>
<circle cx="1479.7" cy="404.7" r="6.95"/>
<circle cx="1440.3" cy="403.5" r="6.95"/>
<circle cx="1447.6" cy="452.7" r="6.95"/>
<circle cx="1439.1" cy="451.4" r="6.95"/>
<circle cx="1443.6" cy="384.5" r="6.95"/>
<circle cx="1452.0" cy="451.6" r="6.95"/>
<circle cx="1439.7" cy="479.1" r="6.95"/>
<circle cx="1421.4" cy="417.2" r="6.95"/>
<circle cx="1405.8" cy="469.2" r="6.95"/>
<circle cx="1478.7" cy="354.6" r="6.95"/>
<circle cx="1490.6" cy="374.7" r="6.95"/>
<circle cx="1405.6" cy="473.7" r="6.95"/>
<circle cx="1481.5" cy="353.4" r="6.95"/>
<circle cx="1472.1" cy="363.9" r="6.95"/>
<circle cx="1455.2" cy="471.4" r="6.95"/>
<circle cx="1419.1" cy="374.8" r="6.95"/>
<circle cx="1420.0" cy="439.8" r="6.95"/>
<circle cx="1476.4" cy="406.7" r="6.95"/>
<circle cx="1433.2" cy="407.1" r="6.95"/>
<circle cx="1431.2" cy="410.3" r="6.95"/>
<circle cx="1475.7" cy="371.9" r="6.95"/>
<circle cx="1467.5" cy="425.0" r="6.95"/>
<circle cx="1446.2" cy="443.8" r="6.95"/>
<circle cx="1492.5" cy="370.2" r="6.95"/>
<circle cx="1441.6" cy="455.1" r="6.95"/>
<circle cx="1414.3" cy="435.3" r="6.95"/>
<circle cx="1427.3" cy="382.6" r="6.95"/>
<circle cx="1425.1" cy="453.1" r="6.95"/>
<circle cx="1438.3" cy="475.2" r="6.95"/>
<circle cx="1457.5" cy="387.8" r="6.95"/>
<circle cx="1445.7" cy="405.0" r="6.95"/>
<circle cx="1428.1" cy="463.4" r="6.95"/>
<circle cx="1408.1" cy="495.7" r="6.95"/>
<circle cx="1445.7" cy="437.3" r="6.95"/>
<circle cx="1444.4" cy="472.4" r="6.95"/>
<circle cx="1445.9" cy="455.4" r="6.95"/>
<circle cx="1487.9" cy="407.6" r="6.95"/>
<circle cx="1444.3" cy="382.2" r="6.95"/>
<circle cx="1418.3" cy="454.9" r="6.95"/>
<circle cx="1487.6" cy="384.1" r="6.95"/>
<circle cx="1413.0" cy="453.0" r="6.95"/>
<circle cx="1420.6" cy="476.9" r="6.95"/>
<circle cx="1427.1" cy="411.1" r="6.95"/>
<circle cx="1473.6" cy="360.8" r="6.95"/>
<circle cx="1402.4" cy="472.3" r="6.95"/>
<circle cx="1424.7" cy="401.1" r="6.95"/>
<circle cx="1457.0" cy="448.7" r="6.95"/>
<circle cx="1440.9" cy="420.4" r="6.95"/>
<circle cx="1415.5" cy="435.2" r="6.95"/>
<circle cx="1453.0" cy="365.8" r="6.95"/>
<circle cx="1422.8" cy="447.1" r="6.95"/>
<circle cx="1404.6" cy="480.2" r="6.95"/>
<circle cx="1493.8" cy="362.4" r="6.95"/>
<circle cx="1425.1" cy="448.7" r="6.95"/>
<circle cx="1421.7" cy="460.4" r="6.95"/>
<circle cx="1452.1" cy="364.9" r="6.95"/>
<circle cx="1447.3" cy="400.5" r="6.95"/>
<circle cx="1455.4" cy="375.1" r="6.95"/>
<circle cx="1464.3" cy="442.0" r="6.95"/>
<circle cx="1412.1" cy="480.6" r="6.95"/>
<circle cx="1465.4" cy="366.3" r="6.95"/>
<circle cx="1496.4" cy="369.1" r="6.95"/>
<circle cx="1429.1" cy="455.4" r="6.95"/>
<circle cx="1458.9" cy="430.7" r="6.95"/>
<circle cx="1464.5" cy="416.2" r="6.95"/>
<circle cx="1427.0" cy="374.3" r="6.95"/>
<circle cx="1474.8" cy="401.5" r="6.95"/>
<circle cx="1421.8" cy="405.1" r="6.95"/>
<circle cx="1489.7" cy="354.3" r="6.95"/>
<circle cx="1448.5" cy="384.8" r="6.95"/>
<circle cx="1478.1" cy="400.8" r="6.95"/>
<circle cx="1429.3" cy="408.1" r="6.95"/>
<circle cx="1452.6" cy="463.0" r="6.95"/>
<circle cx="1431.5" cy="474.2" r="6.95"/>
<circle cx="1438.7" cy="458.8" r="6.95"/>
<circle cx="1458.3" cy="369.8" r="6.95"/>
<circle cx="1436.6" cy="376.9" r="6.95"/>
<circle cx="1451.1" cy="432.7" r="6.95"/>
<circle cx="1479.5" cy="352.5" r="6.95"/>
<circle cx="1453.9" cy="434.9" r="6.95"/>
<circle cx="1468.9" cy="392.6" r="6.95"/>
<circle cx="1459.4" cy="456.3" r="6.95"/>
<circle cx="1466.1" cy="421.3" r="6.95"/>
<circle cx="1450.6" cy="416.6" r="6.95"/>
<circle cx="1413.7" cy="426.9" r="6.95"/>
<circle cx="1464.3" cy="414.2" r="6.95"/>
<circle cx="1491.9" cy="368.2" r="6.95"/>
<circle cx="1428.2" cy="477.7" r="6.95"/>
<circle cx="1469.8" cy="368.0" r="6.95"/>
<circle cx="1474.8" cy="399.2" r="6.95"/>
<circle cx="1476.8" cy="420.3" r="6.95"/>
<circle cx="1470.3" cy="428.1" r="6.95"/>
<circle cx="1439.3" cy="444.7" r="6.95"/>
<circle cx="1426.1" cy="417.2" r="6.95"/>
<circle cx="1476.8" cy="407.8" r="6.95"/>
<circle cx="1412.2" cy="482.0" r="6.95"/>
<circle cx="1472.6" cy="402.7" r="6.95"/>
<circle cx="1433.5" cy="426.9" r="6.95"/>
<circle cx="1458.8" cy="381.4" r="6.95"/>
<circle cx="1479.7" cy="369.4" r="6.95"/>
<circle cx="1443.5" cy="377.1" r="6.95"/>
<circle cx="1437.2" cy="373.1" r="6.95"/>
<circle cx="1442.2" cy="408.8" r="6.95"/>
<circle cx="1470.8" cy="355.6" r="6.95"/>
<circle cx="1437.2" cy="407.1" r="6.95"/>
<circle cx="1395.0" cy="491.9" r="6.95"/>
<circle cx="1445.2" cy="372.5" r="6.95"/>
<circle cx="1461.7" cy="399.6" r="6.95"/>
<circle cx="1473.5" cy="389.0" r="6.95"/>
<circle cx="1480.2" cy="417.3" r="6.95"/>
<circle cx="1496.5" cy="392.8" r="6.95"/>
<circle cx="1420.0" cy="387.6" r="6.95"/>
<circle cx="1430.6" cy="362.0" r="6.95"/>
<circle cx="1458.3" cy="348.5" r="6.95"/>
<circle cx="1492.8" cy="377.9" r="6.95"/>
<circle cx="1426.1" cy="438.4" r="6.95"/>
<circle cx="1498.0" cy="361.1" r="6.95"/>
<circle cx="1424.9" cy="474.6" r="6.95"/>
<circle cx="1429.4" cy="449.3" r="6.95"/>
<circle cx="1496.0" cy="374.0" r="6.95"/>
<circle cx="1495.4" cy="402.1" r="6.95"/>
<circle cx="1438.4" cy="382.2" r="6.95"/>
<circle cx="1479.3" cy="419.6" r="6.95"/>
<circle cx="1422.2" cy="373.3" r="6.95"/>
<circle cx="1471.6" cy="405.6" r="6.95"/>
<circle cx="1446.6" cy="370.9" r="6.95"/>
<circle cx="1471.6" cy="351.4" r="6.95"/>
<circle cx="1444.3" cy="461.0" r="6.95"/>
<circle cx="1467.9" cy="362.5" r="6.95"/>
<circle cx="1418.6" cy="473.7" r="6.95"/>
<circle cx="1429.4" cy="403.1" r="6.95"/>
<circle cx="1499.0" cy="363.6" r="6.95"/>
<circle cx="1455.7" cy="364.4" r="6.95"/>
<circle cx="1457.6" cy="349.7" r="6.95"/>
<circle cx="1417.8" cy="492.1" r="6.95"/>
<circle cx="1416.6" cy="431.8" r="6.95"/>
<circle cx="1439.0" cy="464.4" r="6.95"/>
<circle cx="1459.7" cy="465.5" r="6.95"/>
<circle cx="1451.9" cy="376.0" r="6.95"/>
<circle cx="1484.5" cy="364.8" r="6.95"/>
<circle cx="1394.7" cy="492.0" r="6.95"/>
<circle cx="1414.3" cy="481.1" r="6.95"/>
<circle cx="1416.9" cy="471.6" r="6.95"/>
<circle cx="1460.9" cy="443.6" r="6.95"/>
<circle cx="1430.8" cy="437.9" r="6.95"/>
<circle cx="1441.9" cy="364.5" r="6.95"/>
<circle cx="1483.3" cy="378.7" r="6.95"/>
<circle cx="1452.4" cy="417.2" r="6.95"/>
<circle cx="1473.5" cy="359.5" r="6.95"/>
<circle cx="1430.8" cy="420.2" r="6.95"/>
<circle cx="1474.4" cy="411.0" r="6.95"/>
<circle cx="1464.6" cy="438.3" r="6.95"/>
<circle cx="1416.0" cy="400.2" r="6.95"/>
<circle cx="1440.3" cy="360.5" r="6.95"/>
<circle cx="1452.0" cy="410.4" r="6.95"/>
<circle cx="1478.6" cy="408.6" r="6.95"/>
<circle cx="1424.7" cy="487.2" r="6.95"/>
<circle cx="1472.9" cy="391.9" r="6.95"/>
<circle cx="1450.2" cy="443.2" r="6.95"/>
<circle cx="1422.9" cy="412.4" r="6.95"/>
<circle cx="1430.6" cy="458.6" r="6.95"/>
<circle cx="1475.6" cy="390.8" r="6.95"/>
<circle cx="1438.0" cy="359.6" r="6.95"/>
<circle cx="1409.2" cy="461.6" r="6.95"/>
<circle cx="1433.7" cy="372.0" r="6.95"/>
<circle cx="1426.9" cy="417.0" r="6.95"/>
<circle cx="1450.9" cy="428.8" r="6.95"/>
<circle cx="1432.3" cy="475.1" r="6.95"/>
<circle cx="1423.9" cy="417.0" r="6.95"/>
<circle cx="1425.3" cy="384.1" r="6.95"/>
<circle cx="1482.3" cy="349.5" r="6.95"/>
<circle cx="1452.0" cy="372.7" r="6.95"/>
<circle cx="1478.2" cy="417.4" r="6.95"/>
<circle cx="1440.4" cy="398.4" r="6.95"/>
<circle cx="1419.7" cy="467.5" r="6.95"/>
<circle cx="1438.8" cy="386.8" r="6.95"/>
<circle cx="1462.3" cy="448.6" r="6.95"/>
<circle cx="1419.7" cy="368.2" r="6.95"/>
<circle cx="1449.0" cy="471.8" r="6.95"/>
<circle cx="1453.8" cy="389.7" r="6.95"/>
<circle cx="1438.4" cy="425.2" r="6.95"/>
<circle cx="1453.3" cy="408.8" r="6.95"/>
<circle cx="1431.4" cy="415.8" r="6.95"/>
<circle cx="1481.9" cy="415.4" r="6.95"/>
<circle cx="1499.4" cy="371.1" r="6.95"/>
<circle cx="1427.3" cy="425.8" r="6.95"/>
<circle cx="1438.1" cy="474.8" r="6.95"/>
<circle cx="1460.6" cy="352.6" r="6.95"/>
<circle cx="1456.3" cy="429.9" r="6.95"/>
<circle cx="1446.6" cy="389.7" r="6.95"/>
<circle cx="1433.6" cy="424.7" r="6.95"/>
<circle cx="1464.1" cy="377.1" r="6.95"/>
<circle cx="1495.1" cy="375.0" r="6.95"/>
<circle cx="1434.9" cy="471.4" r="6.95"/>
<circle cx="1427.4" cy="388.4" r="6.95"/>
<circle cx="1427.5" cy="406.5" r="6.95"/>
<circle cx="1423.6" cy="367.6" r="6.95"/>
<circle cx="1420.0" cy="494.0" r="6.95"/>
<circle cx="1450.9" cy="458.7" r="6.95"/>
<circle cx="1483.6" cy="348.8" r="6.95"/>
<circle cx="1423.6" cy="491.2" r="6.95"/>
<circle cx="1446.1" cy="387.9" r="6.95"/>
<circle cx="1442.0" cy="387.7" r="6.95"/>
<circle cx="1464.9" cy="396.7" r="6.95"/>
<circle cx="1438.0" cy="362.7" r="6.95"/>
<circle cx="1435.9" cy="362.4" r="6.95"/>
<circle cx="1467.6" cy="357.2" r="6.95"/>
<circle cx="1456.7" cy="361.8" r="6.95"/>
<circle cx="1443.9" cy="373.7" r="6.95"/>
<circle cx="1473.2" cy="383.5" r="6.95"/>
<circle cx="1435.9" cy="397.9" r="6.95"/>
<circle cx="1471.7" cy="394.3" r="6.95"/>
<circle cx="1472.6" cy="391.0" r="6.95"/>
<circle cx="1441.9" cy="396.7" r="6.95"/>
<circle cx="1454.3" cy="391.5" r="6.95"/>
<circle cx="1458.5" cy="373.6" r="6.95"/>
<circle cx="1447.7" cy="373.6" r="6.95"/>
<circle cx="1444.9" cy="356.5" r="6.95"/>
<circle cx="1472.3" cy="393.9" r="6.95"/>
<circle cx="1457.9" cy="391.2" r="6.95"/>
<circle cx="1435.3" cy="387.2" r="6.95"/>
<circle cx="1451.9" cy="359.7" r="6.95"/>
<circle cx="1438.9" cy="378.7" r="6.95"/>
<circle cx="1441.7" cy="375.3" r="6.95"/>
<circle cx="1460.7" cy="371.8" r="6.95"/>
<circle cx="1435.1" cy="377.0" r="6.95"/>
<circle cx="1440.7" cy="363.0" r="6.95"/>
<circle cx="1438.5" cy="370.2" r="6.95"/>
<circle cx="1432.0" cy="385.8" r="6.95"/>
<circle cx="1479.5" cy="371.4" r="6.95"/>
<circle cx="1466.8" cy="401.3" r="6.95"/>
<circle cx="1430.3" cy="357.8" r="6.95"/>
<circle cx="1471.5" cy="396.1" r="6.95"/>
<circle cx="1462.5" cy="358.8" r="6.95"/>
<circle cx="1450.3" cy="397.8" r="6.95"/>
<circle cx="1475.9" cy="394.2" r="6.95"/>
<circle cx="1439.0" cy="397.0" r="6.95"/>
<circle cx="1448.2" cy="389.4" r="6.95"/>
<circle cx="1435.4" cy="403.4" r="6.95"/>
<circle cx="1460.6" cy="389.7" r="6.95"/>
<circle cx="1439.4" cy="383.9" r="6.95"/>
<circle cx="1459.4" cy="382.5" r="6.95"/>
<circle cx="1447.4" cy="390.0" r="6.95"/>
<circle cx="1446.4" cy="366.2" r="6.95"/>
<circle cx="1436.9" cy="387.6" r="6.95"/>
<circle cx="1434.1" cy="362.4" r="6.95"/>
<circle cx="1431.7" cy="385.4" r="6.95"/>
<circle cx="1458.0" cy="379.9" r="6.95"/>
<circle cx="1430.1" cy="374.2" r="6.95"/>
<circle cx="1446.5" cy="355.1" r="6.95"/>
<circle cx="1428.2" cy="404.9" r="6.95"/>
<circle cx="1434.6" cy="366.6" r="6.95"/>
<circle cx="1442.5" cy="382.8" r="6.95"/>
<circle cx="1432.2" cy="375.8" r="6.95"/>
<circle cx="1447.8" cy="395.9" r="6.95"/>
<circle cx="1454.8" cy="403.3" r="6.95"/>
<circle cx="1455.9" cy="376.1" r="6.95"/>
<circle cx="1464.2" cy="366.3" r="6.95"/>
<circle cx="1429.7" cy="377.6" r="6.95"/>
<circle cx="1477.2" cy="390.6" r="6.95"/>
<circle cx="1441.9" cy="387.6" r="6.95"/>
<circle cx="1473.9" cy="364.2" r="6.95"/>
<circle cx="1459.8" cy="369.6" r="6.95"/>
<circle cx="1441.2" cy="365.8" r="6.95"/>
<circle cx="1439.0" cy="369.3" r="6.95"/>
<circle cx="1430.1" cy="371.9" r="6.95"/>
<circle cx="1432.7" cy="391.7" r="6.95"/>
<circle cx="1460.4" cy="350.2" r="6.95"/>
<circle cx="1469.8" cy="360.5" r="6.95"/>
<circle cx="1454.0" cy="380.5" r="6.95"/>
<circle cx="1446.0" cy="365.9" r="6.95"/>
<circle cx="1451.5" cy="357.5" r="6.95"/>
<circle cx="1474.6" cy="356.2" r="6.95"/>
<circle cx="1472.5" cy="362.0" r="6.95"/>
<circle cx="1444.4" cy="371.4" r="6.95"/>
<circle cx="1429.8" cy="357.1" r="6.95"/>
<circle cx="1447.5" cy="374.3" r="6.95"/>
<circle cx="1475.3" cy="404.4" r="6.95"/>
<circle cx="1430.4" cy="379.4" r="6.95"/>
<circle cx="1435.0" cy="394.2" r="6.95"/>
<circle cx="1445.4" cy="399.1" r="6.95"/>
<circle cx="1457.5" cy="356.9" r="6.95"/>
<circle cx="1474.9" cy="358.2" r="6.95"/>
<circle cx="1453.9" cy="370.4" r="6.95"/>
<circle cx="1446.6" cy="394.1" r="6.95"/>
<circle cx="1439.5" cy="389.5" r="6.95"/>
<circle cx="1464.0" cy="401.4" r="6.95"/>
<circle cx="1456.1" cy="400.6" r="6.95"/>
<circle cx="1451.8" cy="381.5" r="6.95"/>
<circle cx="1461.5" cy="396.2" r="6.95"/>
<circle cx="1476.5" cy="356.3" r="6.95"/>
<circle cx="1435.4" cy="379.4" r="6.95"/>
<circle cx="1403.6" cy="480.0" r="6.95"/>
<circle cx="1412.1" cy="454.6" r="6.95"/>
<circle cx="1436.2" cy="477.5" r="6.95"/>
<circle cx="1413.8" cy="479.0" r="6.95"/>
<circle cx="1418.6" cy="484.3" r="6.95"/>
<circle cx="1444.9" cy="460.4" r="6.95"/>
<circle cx="1411.5" cy="485.8" r="6.95"/>
<circle cx="1430.8" cy="448.5" r="6.95"/>
<circle cx="1426.7" cy="477.8" r="6.95"/>
<circle cx="1406.6" cy="477.1" r="6.95"/>
<circle cx="1433.7" cy="446.4" r="6.95"/>
<circle cx="1428.6" cy="476.1" r="6.95"/>
<circle cx="1408.1" cy="465.8" r="6.95"/>
<circle cx="1409.3" cy="485.5" r="6.95"/>
<circle cx="1424.0" cy="445.8" r="6.95"/>
<circle cx="1440.5" cy="445.1" r="6.95"/>
<circle cx="1412.6" cy="441.6" r="6.95"/>
<circle cx="1436.5" cy="446.5" r="6.95"/>
<circle cx="1425.3" cy="445.3" r="6.95"/>
<circle cx="1423.0" cy="479.1" r="6.95"/>
<circle cx="1425.8" cy="465.9" r="6.95"/>
<circle cx="1423.2" cy="464.9" r="6.95"/>
<circle cx="1429.0" cy="445.4" r="6.95"/>
<circle cx="1422.7" cy="453.5" r="6.95"/>
<circle cx="1434.6" cy="472.6" r="6.95"/>
<circle cx="1416.1" cy="472.5" r="6.95"/>
<circle cx="1413.7" cy="450.8" r="6.95"/>
<circle cx="1430.7" cy="466.7" r="6.95"/>
<circle cx="1411.3" cy="462.1" r="6.95"/>
<circle cx="1412.7" cy="493.4" r="6.95"/>
<circle cx="1416.6" cy="454.3" r="6.95"/>
<circle cx="1443.4" cy="455.1" r="6.95"/>
<circle cx="1410.9" cy="474.4" r="6.95"/>
<circle cx="1445.7" cy="456.6" r="6.95"/>
<circle cx="1437.6" cy="461.0" r="6.95"/>
<circle cx="1379.8" cy="459.3" r="6.95"/>
<circle cx="1385.1" cy="461.5" r="6.95"/>
<circle cx="1402.3" cy="488.6" r="6.95"/>
<circle cx="1389.7" cy="466.6" r="6.95"/>
<circle cx="1377.7" cy="459.5" r="6.95"/>
<circle cx="1399.4" cy="488.9" r="6.95"/>
<circle cx="1382.2" cy="481.3" r="6.95"/>
<circle cx="1396.2" cy="490.9" r="6.95"/>
<circle cx="1392.0" cy="483.2" r="6.95"/>
<circle cx="1388.7" cy="462.5" r="6.95"/>
<circle cx="1402.8" cy="491.4" r="6.95"/>
<circle cx="1390.1" cy="467.6" r="6.95"/>
<circle cx="1401.1" cy="490.6" r="6.95"/>
<circle cx="1388.8" cy="472.4" r="6.95"/>
<circle cx="1391.8" cy="473.1" r="6.95"/>
<circle cx="1377.3" cy="467.8" r="6.95"/>
<circle cx="1381.3" cy="477.5" r="6.95"/>
<circle cx="1387.6" cy="469.4" r="6.95"/>
<circle cx="1385.6" cy="463.5" r="6.95"/>
<circle cx="1392.9" cy="466.6" r="6.95"/>
<circle cx="1433.0" cy="285.2" r="6.95"/>
<circle cx="1444.1" cy="279.4" r="6.95"/>
<circle cx="1440.2" cy="301.1" r="6.95"/>
<circle cx="1424.0" cy="311.6" r="6.95"/>
<circle cx="1423.3" cy="306.1" r="6.95"/>
<circle cx="1385.7" cy="432.4" r="6.95"/>
<circle cx="1336.5" cy="391.9" r="6.95"/>
<circle cx="1338.3" cy="379.0" r="6.95"/>
<circle cx="1384.1" cy="455.2" r="6.95"/>
<circle cx="1335.8" cy="405.8" r="6.95"/>
<circle cx="1350.3" cy="361.3" r="6.95"/>
<circle cx="1361.5" cy="394.5" r="6.95"/>
<circle cx="1367.7" cy="399.8" r="6.95"/>
<circle cx="1384.5" cy="469.4" r="6.95"/>
<circle cx="1319.4" cy="368.6" r="6.95"/>
<circle cx="1396.7" cy="480.9" r="6.95"/>
<circle cx="1398.8" cy="479.8" r="6.95"/>
<circle cx="1398.6" cy="486.4" r="6.95"/>
<circle cx="1392.8" cy="485.7" r="6.95"/>
<circle cx="1395.7" cy="470.4" r="6.95"/>
<circle cx="1413.0" cy="495.6" r="6.95"/>
<circle cx="1392.6" cy="493.7" r="6.95"/>
<circle cx="1413.7" cy="486.7" r="6.95"/>
<circle cx="1406.8" cy="475.2" r="6.95"/>
<circle cx="1391.5" cy="475.6" r="6.95"/>
<circle cx="1392.8" cy="490.4" r="6.95"/>
<circle cx="1396.2" cy="479.1" r="6.95"/>
<circle cx="1407.4" cy="495.4" r="6.95"/>
<circle cx="1394.1" cy="467.4" r="6.95"/>
<circle cx="1391.9" cy="470.8" r="6.95"/>
<circle cx="1394.6" cy="480.3" r="6.95"/>
<circle cx="1406.3" cy="481.5" r="6.95"/>
<circle cx="1383.9" cy="470.5" r="6.95"/>
<circle cx="1391.8" cy="478.6" r="6.95"/>
<circle cx="1397.0" cy="482.7" r="6.95"/>
<circle cx="1408.1" cy="478.4" r="6.95"/>
<circle cx="1395.1" cy="481.8" r="6.95"/>
<circle cx="1407.9" cy="491.3" r="6.95"/>
<circle cx="1391.7" cy="469.1" r="6.95"/>
<circle cx="1386.5" cy="469.8" r="6.95"/>
<circle cx="1409.1" cy="495.2" r="6.95"/>
<circle cx="1403.0" cy="494.5" r="6.95"/>
<circle cx="1387.0" cy="470.6" r="6.95"/>
<circle cx="1397.8" cy="467.2" r="6.95"/>
<circle cx="1400.6" cy="488.6" r="6.95"/>
<circle cx="1400.5" cy="467.2" r="6.95"/>
<circle cx="1384.2" cy="472.1" r="6.95"/>
<circle cx="1408.4" cy="494.7" r="6.95"/>
<circle cx="1402.1" cy="469.2" r="6.95"/>
<circle cx="1391.2" cy="478.9" r="6.95"/>
<circle cx="1387.1" cy="469.6" r="6.95"/>
<circle cx="1399.5" cy="492.1" r="6.95"/>
<circle cx="1392.0" cy="493.4" r="6.95"/>
<circle cx="1391.5" cy="471.7" r="6.95"/>
<circle cx="1408.4" cy="491.6" r="6.95"/>
<circle cx="1356.2" cy="264.1" r="6.95"/>
<circle cx="1349.0" cy="311.9" r="6.95"/>
<circle cx="1370.7" cy="313.5" r="6.95"/>
<circle cx="1355.9" cy="324.8" r="6.95"/>
<circle cx="1358.3" cy="324.0" r="6.95"/>
<circle cx="1372.8" cy="325.6" r="6.95"/>
<circle cx="1371.2" cy="334.5" r="6.95"/>
<circle cx="1352.7" cy="342.5" r="6.95"/>
<circle cx="1335.0" cy="352.2" r="6.95"/>
<circle cx="1345.4" cy="354.6" r="6.95"/>
<circle cx="1379.3" cy="358.6" r="6.95"/>
<circle cx="1388.9" cy="366.7" r="6.95"/>
<circle cx="1326.9" cy="362.6" r="6.95"/>
<circle cx="1339.8" cy="362.6" r="6.95"/>
<circle cx="1323.7" cy="371.5" r="6.95"/>
<circle cx="1347.0" cy="369.1" r="6.95"/>
<circle cx="1324.5" cy="378.7" r="6.95"/>
<circle cx="1334.2" cy="373.9" r="6.95"/>
<circle cx="1345.4" cy="377.1" r="6.95"/>
<circle cx="1357.5" cy="382.0" r="6.95"/>
<circle cx="1376.8" cy="386.8" r="6.95"/>
<circle cx="1329.3" cy="392.4" r="6.95"/>
<circle cx="1348.7" cy="394.8" r="6.95"/>
<circle cx="1356.7" cy="393.2" r="6.95"/>
<circle cx="1318.9" cy="404.5" r="6.95"/>
<circle cx="1335.8" cy="407.7" r="6.95"/>
<circle cx="1355.1" cy="404.5" r="6.95"/>
<circle cx="1372.8" cy="407.7" r="6.95"/>
<circle cx="1388.9" cy="406.9" r="6.95"/>
<circle cx="1249.6" cy="399.4" r="6.95"/>
<circle cx="1426.8" cy="181.0" r="6.95"/>
<circle cx="1448.0" cy="176.4" r="6.95"/>
<circle cx="1450.0" cy="198.2" r="6.95"/>
<circle cx="1437.9" cy="209.7" r="6.95"/>
<circle cx="1446.8" cy="213.9" r="6.95"/>
<circle cx="1427.1" cy="223.6" r="6.95"/>
<circle cx="1430.1" cy="283.0" r="6.95"/>
<circle cx="1447.3" cy="276.3" r="6.95"/>
<circle cx="1427.1" cy="297.2" r="6.95"/>
<circle cx="1433.1" cy="304.7" r="6.95"/>
<circle cx="1433.1" cy="317.4" r="6.95"/>
<circle cx="1430.8" cy="333.1" r="6.95"/>
<circle cx="1516.8" cy="351.1" r="6.95"/>
<circle cx="1526.5" cy="360.0" r="6.95"/>
<circle cx="1528.0" cy="367.5" r="6.95"/>
<circle cx="1544.0" cy="360.8" r="6.95"/>
<circle cx="1557.2" cy="363.5" r="6.95"/>
<circle cx="1507.8" cy="366.0" r="6.95"/>
<circle cx="1508.3" cy="388.4" r="6.95"/>
<circle cx="1513.8" cy="409.4" r="6.95"/>
<circle cx="1380.0" cy="325.6" r="6.95"/>
<circle cx="1429.9" cy="282.8" r="6.95"/>
<circle cx="1446.5" cy="282.3" r="6.95"/>
<circle cx="1427.2" cy="296.8" r="6.95"/>
<circle cx="1432.5" cy="304.8" r="6.95"/>
<circle cx="1447.6" cy="301.6" r="6.95"/>
<circle cx="1448.6" cy="310.2" r="6.95"/>
<circle cx="1433.6" cy="317.2" r="6.95"/>
<circle cx="1447.6" cy="324.1" r="6.95"/>
<circle cx="1430.4" cy="332.7" r="6.95"/>
<circle cx="1437.9" cy="328.4" r="6.95"/>
<circle cx="1452.9" cy="335.9" r="6.95"/>
<circle cx="1345.4" cy="354.2" r="6.95"/>
<circle cx="1326.8" cy="361.6" r="6.95"/>
<circle cx="1342.4" cy="362.3" r="6.95"/>
<circle cx="1323.8" cy="371.3" r="6.95"/>
<circle cx="1335.7" cy="370.5" r="6.95"/>
<circle cx="1347.6" cy="369.0" r="6.95"/>
<circle cx="1324.6" cy="378.7" r="6.95"/>
<circle cx="1340.9" cy="378.7" r="6.95"/>
<circle cx="1358.0" cy="380.9" r="6.95"/>
<circle cx="1377.3" cy="386.9" r="6.95"/>
<circle cx="1329.8" cy="391.3" r="6.95"/>
<circle cx="1335.7" cy="395.8" r="6.95"/>
<circle cx="1346.9" cy="392.8" r="6.95"/>
<circle cx="1357.3" cy="393.6" r="6.95"/>
<circle cx="1318.6" cy="404.7" r="6.95"/>
<circle cx="1335.7" cy="411.4" r="6.95"/>
<circle cx="1354.3" cy="403.2" r="6.95"/>
<circle cx="1352.8" cy="409.2" r="6.95"/>
<circle cx="1372.1" cy="409.2" r="6.95"/>
<circle cx="1389.2" cy="408.4" r="6.95"/>
<circle cx="1371.4" cy="416.6" r="6.95"/>
<circle cx="1381.0" cy="424.0" r="6.95"/>
<circle cx="1362.5" cy="424.0" r="6.95"/>
<circle cx="1336.5" cy="427.0" r="6.95"/>
<circle cx="1347.6" cy="424.0" r="6.95"/>
<circle cx="1342.4" cy="435.9" r="6.95"/>
<circle cx="1368.4" cy="434.4" r="6.95"/>
<circle cx="1375.1" cy="432.9" r="6.95"/>
<circle cx="1348.4" cy="446.3" r="6.95"/>
<circle cx="1363.2" cy="447.8" r="6.95"/>
<circle cx="1379.6" cy="447.8" r="6.95"/>
<circle cx="1372.1" cy="458.2" r="6.95"/>
<circle cx="1385.5" cy="467.1" r="6.95"/>
<circle cx="1401.8" cy="424.0" r="6.95"/>
<circle cx="1409.3" cy="422.5" r="6.95"/>
<circle cx="1410.8" cy="447.8" r="6.95"/>
<circle cx="1406.3" cy="461.2" r="6.95"/>
<circle cx="1526.7" cy="358.6" r="6.95"/>
<circle cx="1527.4" cy="367.5" r="6.95"/>
<circle cx="1539.3" cy="360.9" r="6.95"/>
<circle cx="1508.8" cy="364.6" r="6.95"/>
<circle cx="1508.1" cy="388.4" r="6.95"/>
<circle cx="1505.1" cy="416.6" r="6.95"/>
<circle cx="1514.8" cy="413.6" r="6.95"/>
<circle cx="1494.0" cy="407.7" r="6.95"/>
<circle cx="1496.9" cy="450.8" r="6.95"/>
<circle cx="1474.6" cy="455.2" r="6.95"/>
<circle cx="1483.6" cy="422.5" r="6.95"/>
<circle cx="1488.0" cy="432.9" r="6.95"/>
<circle cx="1489.5" cy="438.9" r="6.95"/>
<circle cx="1474.6" cy="438.9" r="6.95"/>
<circle cx="1458.3" cy="478.2" r="6.95"/>
<circle cx="1457.6" cy="465.6" r="6.95"/>
<circle cx="1430.1" cy="489.4" r="6.95"/>
<circle cx="1419.7" cy="496.8" r="6.95"/>
<circle cx="1421.2" cy="383.9" r="6.95"/>
<circle cx="1409.3" cy="409.2" r="6.95"/>
<circle cx="1427.1" cy="333.4" r="6.95"/>
</g>
<g fill="none" stroke="#0000ff" stroke-width="2.2">
<circle cx="1477.9" cy="332.6" r="6.95"/>
<circle cx="1483.4" cy="341.5" r="6.95"/>
<circle cx="1481.7" cy="340.6" r="6.95"/>
<circle cx="1458.9" cy="320.5" r="6.95"/>
<circle cx="1488.2" cy="328.6" r="6.95"/>
<circle cx="1486.8" cy="305.0" r="6.95"/>
<circle cx="1473.0" cy="310.8" r="6.95"/>
<circle cx="1475.4" cy="325.3" r="6.95"/>
<circle cx="1458.4" cy="309.5" r="6.95"/>
<circle cx="1466.9" cy="340.3" r="6.95"/>
<circle cx="1482.5" cy="307.0" r="6.95"/>
<circle cx="1483.5" cy="306.1" r="6.95"/>
<circle cx="1477.8" cy="305.6" r="6.95"/>
<circle cx="1458.1" cy="338.3" r="6.95"/>
<circle cx="1464.7" cy="309.5" r="6.95"/>
<circle cx="1489.4" cy="338.4" r="6.95"/>
<circle cx="1467.3" cy="342.3" r="6.95"/>
<circle cx="1475.3" cy="329.8" r="6.95"/>
<circle cx="1464.6" cy="341.4" r="6.95"/>
<circle cx="1480.1" cy="342.5" r="6.95"/>
<circle cx="1486.6" cy="313.1" r="6.95"/>
<circle cx="1469.6" cy="307.3" r="6.95"/>
<circle cx="1462.7" cy="302.9" r="6.95"/>
<circle cx="1467.6" cy="326.5" r="6.95"/>
<circle cx="1458.1" cy="329.8" r="6.95"/>
<circle cx="1468.8" cy="313.6" r="6.95"/>
<circle cx="1484.2" cy="321.2" r="6.95"/>
<circle cx="1468.1" cy="321.2" r="6.95"/>
<circle cx="1480.5" cy="302.5" r="6.95"/>
<circle cx="1489.2" cy="301.0" r="6.95"/>
<circle cx="1480.3" cy="338.6" r="6.95"/>
<circle cx="1479.6" cy="314.3" r="6.95"/>
<circle cx="1473.0" cy="323.9" r="6.95"/>
<circle cx="1471.7" cy="315.6" r="6.95"/>
<circle cx="1464.2" cy="324.4" r="6.95"/>
<circle cx="1464.9" cy="324.7" r="6.95"/>
<circle cx="1460.5" cy="314.4" r="6.95"/>
<circle cx="1475.6" cy="323.8" r="6.95"/>
<circle cx="1471.3" cy="332.6" r="6.95"/>
<circle cx="1467.9" cy="313.6" r="6.95"/>
<circle cx="1477.2" cy="328.5" r="6.95"/>
<circle cx="1474.5" cy="329.4" r="6.95"/>
<circle cx="1481.4" cy="322.2" r="6.95"/>
<circle cx="1476.7" cy="322.3" r="6.95"/>
<circle cx="1472.6" cy="330.5" r="6.95"/>
<circle cx="1324.8" cy="212.1" r="6.95"/>
<circle cx="1153.5" cy="248.3" r="6.95"/>
<circle cx="1271.9" cy="243.2" r="6.95"/>
<circle cx="1310.0" cy="256.8" r="6.95"/>
<circle cx="1156.6" cy="273.3" r="6.95"/>
<circle cx="1335.8" cy="274.4" r="6.95"/>
<circle cx="1304.1" cy="301.9" r="6.95"/>
<circle cx="1307.6" cy="310.0" r="6.95"/>
<circle cx="1225.5" cy="318.7" r="6.95"/>
<circle cx="1257.0" cy="337.2" r="6.95"/>
<circle cx="1315.3" cy="327.7" r="6.95"/>
<circle cx="1335.8" cy="328.0" r="6.95"/>
<circle cx="1342.2" cy="320.0" r="6.95"/>
<circle cx="1341.4" cy="327.2" r="6.95"/>
<circle cx="1342.2" cy="341.7" r="6.95"/>
<circle cx="1333.5" cy="327.4" r="6.95"/>
<circle cx="1490.9" cy="60.5" r="6.95"/>
<circle cx="1457.5" cy="96.5" r="6.95"/>
<circle cx="1485.4" cy="115.5" r="6.95"/>
<circle cx="1475.1" cy="151.4" r="6.95"/>
<circle cx="1465.5" cy="164.1" r="6.95"/>
<circle cx="1495.6" cy="159.2" r="6.95"/>
<circle cx="1495.1" cy="167.1" r="6.95"/>
<circle cx="1501.1" cy="174.6" r="6.95"/>
<circle cx="1504.9" cy="175.3" r="6.95"/>
<circle cx="1460.3" cy="184.3" r="6.95"/>
<circle cx="1479.4" cy="193.3" r="6.95"/>
<circle cx="1484.7" cy="197.0" r="6.95"/>
<circle cx="1489.9" cy="200.7" r="6.95"/>
<circle cx="1504.9" cy="193.7" r="6.95"/>
<circle cx="1516.4" cy="194.0" r="6.95"/>
<circle cx="1463.0" cy="216.1" r="6.95"/>
<circle cx="1473.0" cy="217.6" r="6.95"/>
<circle cx="1481.2" cy="214.2" r="6.95"/>
<circle cx="1490.3" cy="211.2" r="6.95"/>
<circle cx="1523.8" cy="225.4" r="6.95"/>
<circle cx="1504.1" cy="232.1" r="6.95"/>
<circle cx="1501.9" cy="242.2" r="6.95"/>
<circle cx="1456.3" cy="244.9" r="6.95"/>
<circle cx="1459.2" cy="244.2" r="6.95"/>
<circle cx="1471.5" cy="241.9" r="6.95"/>
<circle cx="1483.5" cy="244.9" r="6.95"/>
<circle cx="1463.0" cy="262.8" r="6.95"/>
<circle cx="1471.5" cy="259.1" r="6.95"/>
<circle cx="1484.7" cy="255.4" r="6.95"/>
<circle cx="1486.5" cy="259.9" r="6.95"/>
<circle cx="1499.2" cy="271.5" r="6.95"/>
<circle cx="1578.4" cy="282.3" r="6.95"/>
<circle cx="1508.6" cy="288.3" r="6.95"/>
<circle cx="1537.0" cy="291.3" r="6.95"/>
<circle cx="1551.5" cy="298.0" r="6.95"/>
<circle cx="1556.4" cy="306.2" r="6.95"/>
<circle cx="1506.3" cy="298.7" r="6.95"/>
<circle cx="1526.2" cy="314.9" r="6.95"/>
<circle cx="1549.3" cy="322.4" r="6.95"/>
<circle cx="1544.0" cy="334.2" r="6.95"/>
<circle cx="1519.8" cy="334.6" r="6.95"/>
<circle cx="1511.6" cy="322.7" r="6.95"/>
<circle cx="1508.6" cy="342.1" r="6.95"/>
<circle cx="1648.8" cy="237.5" r="6.95"/>
<circle cx="1714.9" cy="248.7" r="6.95"/>
<circle cx="1511.0" cy="338.0" r="6.95"/>
<circle cx="1505.5" cy="343.5" r="6.95"/>
<circle cx="1468.0" cy="276.9" r="6.95"/>
<circle cx="1478.7" cy="274.8" r="6.95"/>
<circle cx="1484.1" cy="280.1" r="6.95"/>
<circle cx="1459.9" cy="284.4" r="6.95"/>
<circle cx="1466.9" cy="286.6" r="6.95"/>
<circle cx="1474.4" cy="286.6" r="6.95"/>
<circle cx="1481.9" cy="286.6" r="6.95"/>
<circle cx="1488.4" cy="295.1" r="6.95"/>
<circle cx="1498.0" cy="300.5" r="6.95"/>
<circle cx="1461.5" cy="297.3" r="6.95"/>
<circle cx="1470.1" cy="301.6" r="6.95"/>
<circle cx="1484.1" cy="301.6" r="6.95"/>
<circle cx="1495.9" cy="313.4" r="6.95"/>
<circle cx="1503.4" cy="319.8" r="6.95"/>
<circle cx="1513.1" cy="323.1" r="6.95"/>
<circle cx="1520.6" cy="334.9" r="6.95"/>
<circle cx="1507.7" cy="342.4" r="6.95"/>
<circle cx="1513.1" cy="337.0" r="6.95"/>
<circle cx="1504.5" cy="327.4" r="6.95"/>
<circle cx="1495.9" cy="329.5" r="6.95"/>
<circle cx="1491.6" cy="340.2" r="6.95"/>
<circle cx="1538.8" cy="333.8" r="6.95"/>
</g>
<g fill="none" stroke="#000" stroke-width="2.2">
<circle cx="506.6" cy="919.8" r="6.95"/>
<circle cx="477.0" cy="959.6" r="6.95"/>
<circle cx="465.0" cy="930.2" r="6.95"/>
<circle cx="514.9" cy="939.4" r="6.95"/>
<circle cx="468.1" cy="920.2" r="6.95"/>
<circle cx="528.6" cy="926.1" r="6.95"/>
<circle cx="530.5" cy="902.3" r="6.95"/>
<circle cx="486.1" cy="898.6" r="6.95"/>
<circle cx="510.6" cy="964.2" r="6.95"/>
<circle cx="518.2" cy="952.2" r="6.95"/>
<circle cx="499.4" cy="949.9" r="6.95"/>
<circle cx="473.7" cy="913.1" r="6.95"/>
<circle cx="525.9" cy="948.2" r="6.95"/>
<circle cx="502.9" cy="896.7" r="6.95"/>
<circle cx="488.7" cy="906.6" r="6.95"/>
<circle cx="490.0" cy="955.0" r="6.95"/>
<circle cx="482.6" cy="961.2" r="6.95"/>
<circle cx="498.9" cy="929.3" r="6.95"/>
<circle cx="466.5" cy="923.9" r="6.95"/>
<circle cx="518.8" cy="899.4" r="6.95"/>
<circle cx="517.2" cy="961.9" r="6.95"/>
<circle cx="472.0" cy="933.2" r="6.95"/>
<circle cx="509.7" cy="964.0" r="6.95"/>
<circle cx="502.7" cy="921.8" r="6.95"/>
<circle cx="522.7" cy="897.1" r="6.95"/>
<circle cx="517.3" cy="903.5" r="6.95"/>
<circle cx="519.9" cy="967.0" r="6.95"/>
<circle cx="469.3" cy="934.4" r="6.95"/>
<circle cx="519.7" cy="901.7" r="6.95"/>
<circle cx="486.0" cy="939.0" r="6.95"/>
<circle cx="468.3" cy="919.2" r="6.95"/>
<circle cx="525.9" cy="937.3" r="6.95"/>
<circle cx="535.0" cy="896.6" r="6.95"/>
<circle cx="496.1" cy="959.4" r="6.95"/>
<circle cx="517.7" cy="926.1" r="6.95"/>
<circle cx="501.1" cy="969.3" r="6.95"/>
<circle cx="516.8" cy="891.1" r="6.95"/>
<circle cx="537.3" cy="916.2" r="6.95"/>
<circle cx="503.9" cy="906.8" r="6.95"/>
<circle cx="504.9" cy="915.8" r="6.95"/>
<circle cx="472.5" cy="940.5" r="6.95"/>
<circle cx="473.8" cy="953.0" r="6.95"/>
<circle cx="538.0" cy="929.8" r="6.95"/>
<circle cx="529.1" cy="909.7" r="6.95"/>
<circle cx="531.7" cy="923.9" r="6.95"/>
<circle cx="501.0" cy="919.7" r="6.95"/>
<circle cx="542.8" cy="919.4" r="6.95"/>
<circle cx="525.3" cy="903.4" r="6.95"/>
<circle cx="541.3" cy="910.5" r="6.95"/>
<circle cx="483.4" cy="921.0" r="6.95"/>
<circle cx="520.2" cy="967.7" r="6.95"/>
<circle cx="496.7" cy="901.0" r="6.95"/>
<circle cx="515.6" cy="900.7" r="6.95"/>
<circle cx="472.3" cy="934.5" r="6.95"/>
<circle cx="527.9" cy="894.9" r="6.95"/>
<circle cx="505.6" cy="946.5" r="6.95"/>
<circle cx="534.1" cy="920.5" r="6.95"/>
<circle cx="545.3" cy="903.3" r="6.95"/>
<circle cx="529.7" cy="952.0" r="6.95"/>
<circle cx="544.7" cy="929.6" r="6.95"/>
<circle cx="512.6" cy="903.6" r="6.95"/>
<circle cx="521.8" cy="896.4" r="6.95"/>
<circle cx="535.5" cy="907.6" r="6.95"/>
<circle cx="506.1" cy="934.8" r="6.95"/>
<circle cx="499.8" cy="903.6" r="6.95"/>
<circle cx="508.4" cy="966.1" r="6.95"/>
<circle cx="513.2" cy="965.7" r="6.95"/>
<circle cx="545.5" cy="933.6" r="6.95"/>
<circle cx="512.1" cy="933.0" r="6.95"/>
<circle cx="523.0" cy="933.4" r="6.95"/>
<circle cx="491.8" cy="948.2" r="6.95"/>
<circle cx="530.1" cy="897.9" r="6.95"/>
<circle cx="528.2" cy="926.2" r="6.95"/>
<circle cx="509.1" cy="941.1" r="6.95"/>
<circle cx="469.2" cy="938.3" r="6.95"/>
<circle cx="498.4" cy="960.6" r="6.95"/>
<circle cx="485.5" cy="956.1" r="6.95"/>
<circle cx="530.9" cy="940.1" r="6.95"/>
<circle cx="518.8" cy="939.2" r="6.95"/>
<circle cx="526.2" cy="922.5" r="6.95"/>
<circle cx="519.9" cy="904.3" r="6.95"/>
<circle cx="470.3" cy="918.3" r="6.95"/>
<circle cx="507.3" cy="932.9" r="6.95"/>
<circle cx="494.8" cy="952.9" r="6.95"/>
<circle cx="518.2" cy="968.5" r="6.95"/>
<circle cx="474.1" cy="917.8" r="6.95"/>
<circle cx="485.5" cy="952.6" r="6.95"/>
<circle cx="481.9" cy="907.5" r="6.95"/>
<circle cx="498.4" cy="949.5" r="6.95"/>
<circle cx="507.0" cy="931.8" r="6.95"/>
<circle cx="498.1" cy="940.9" r="6.95"/>
<circle cx="485.9" cy="910.3" r="6.95"/>
<circle cx="511.6" cy="905.5" r="6.95"/>
<circle cx="504.5" cy="965.9" r="6.95"/>
<circle cx="487.3" cy="958.4" r="6.95"/>
<circle cx="519.6" cy="907.4" r="6.95"/>
<circle cx="491.8" cy="954.3" r="6.95"/>
<circle cx="493.4" cy="909.6" r="6.95"/>
<circle cx="519.5" cy="929.3" r="6.95"/>
<circle cx="496.0" cy="957.2" r="6.95"/>
<circle cx="500.8" cy="906.5" r="6.95"/>
<circle cx="489.6" cy="926.9" r="6.95"/>
<circle cx="520.1" cy="935.5" r="6.95"/>
<circle cx="504.5" cy="904.7" r="6.95"/>
<circle cx="501.1" cy="915.9" r="6.95"/>
<circle cx="480.0" cy="933.5" r="6.95"/>
<circle cx="481.6" cy="947.1" r="6.95"/>
<circle cx="524.5" cy="900.7" r="6.95"/>
<circle cx="521.4" cy="916.9" r="6.95"/>
<circle cx="505.2" cy="938.6" r="6.95"/>
<circle cx="533.9" cy="961.0" r="6.95"/>
<circle cx="531.3" cy="906.7" r="6.95"/>
<circle cx="513.8" cy="916.7" r="6.95"/>
<circle cx="466.1" cy="934.2" r="6.95"/>
<circle cx="507.3" cy="959.6" r="6.95"/>
<circle cx="493.9" cy="957.0" r="6.95"/>
<circle cx="511.3" cy="897.6" r="6.95"/>
<circle cx="529.8" cy="912.6" r="6.95"/>
<circle cx="513.1" cy="895.4" r="6.95"/>
<circle cx="523.6" cy="921.6" r="6.95"/>
<circle cx="545.4" cy="930.5" r="6.95"/>
<circle cx="476.7" cy="945.4" r="6.95"/>
<circle cx="497.1" cy="911.4" r="6.95"/>
<circle cx="493.6" cy="920.7" r="6.95"/>
<circle cx="481.0" cy="939.1" r="6.95"/>
<circle cx="543.6" cy="935.7" r="6.95"/>
<circle cx="466.2" cy="928.3" r="6.95"/>
<circle cx="543.4" cy="944.3" r="6.95"/>
<circle cx="547.2" cy="950.6" r="6.95"/>
<circle cx="489.3" cy="901.2" r="6.95"/>
<circle cx="505.6" cy="944.5" r="6.95"/>
<circle cx="485.6" cy="916.3" r="6.95"/>
<circle cx="532.6" cy="917.7" r="6.95"/>
<circle cx="519.2" cy="933.7" r="6.95"/>
<circle cx="481.4" cy="952.5" r="6.95"/>
<circle cx="525.4" cy="897.4" r="6.95"/>
<circle cx="476.7" cy="906.6" r="6.95"/>
<circle cx="513.9" cy="962.5" r="6.95"/>
<circle cx="484.2" cy="906.0" r="6.95"/>
<circle cx="526.9" cy="923.8" r="6.95"/>
<circle cx="509.7" cy="894.5" r="6.95"/>
<circle cx="538.1" cy="921.8" r="6.95"/>
<circle cx="506.7" cy="940.7" r="6.95"/>
<circle cx="552.3" cy="934.5" r="6.95"/>
<circle cx="472.1" cy="918.3" r="6.95"/>
<circle cx="545.4" cy="951.6" r="6.95"/>
<circle cx="512.8" cy="965.0" r="6.95"/>
<circle cx="513.6" cy="943.8" r="6.95"/>
<circle cx="517.4" cy="905.8" r="6.95"/>
<circle cx="540.3" cy="912.5" r="6.95"/>
<circle cx="476.2" cy="913.7" r="6.95"/>
<circle cx="467.7" cy="922.4" r="6.95"/>
<circle cx="535.5" cy="926.3" r="6.95"/>
<circle cx="516.8" cy="905.7" r="6.95"/>
<circle cx="525.3" cy="931.9" r="6.95"/>
<circle cx="517.4" cy="957.9" r="6.95"/>
<circle cx="478.3" cy="920.2" r="6.95"/>
<circle cx="552.0" cy="921.7" r="6.95"/>
<circle cx="490.4" cy="928.5" r="6.95"/>
<circle cx="480.9" cy="958.1" r="6.95"/>
<circle cx="522.4" cy="897.2" r="6.95"/>
<circle cx="552.3" cy="931.6" r="6.95"/>
<circle cx="487.5" cy="939.1" r="6.95"/>
<circle cx="551.0" cy="917.6" r="6.95"/>
<circle cx="469.7" cy="932.3" r="6.95"/>
<circle cx="492.8" cy="958.4" r="6.95"/>
<circle cx="506.8" cy="899.6" r="6.95"/>
<circle cx="492.7" cy="907.8" r="6.95"/>
<circle cx="480.7" cy="941.0" r="6.95"/>
<circle cx="549.8" cy="919.5" r="6.95"/>
<circle cx="522.6" cy="915.7" r="6.95"/>
<circle cx="547.9" cy="934.3" r="6.95"/>
<circle cx="529.1" cy="918.5" r="6.95"/>
<circle cx="515.3" cy="946.6" r="6.95"/>
<circle cx="471.3" cy="946.6" r="6.95"/>
<circle cx="469.8" cy="935.9" r="6.95"/>
<circle cx="510.8" cy="958.0" r="6.95"/>
<circle cx="497.6" cy="943.1" r="6.95"/>
<circle cx="546.2" cy="917.8" r="6.95"/>
<circle cx="511.4" cy="961.8" r="6.95"/>
<circle cx="492.9" cy="926.6" r="6.95"/>
<circle cx="490.6" cy="954.1" r="6.95"/>
<circle cx="513.0" cy="950.0" r="6.95"/>
<circle cx="539.3" cy="944.6" r="6.95"/>
<circle cx="484.7" cy="910.6" r="6.95"/>
<circle cx="505.6" cy="894.9" r="6.95"/>
<circle cx="551.4" cy="922.6" r="6.95"/>
<circle cx="523.5" cy="954.1" r="6.95"/>
<circle cx="523.2" cy="923.8" r="6.95"/>
<circle cx="466.1" cy="924.8" r="6.95"/>
<circle cx="500.0" cy="966.0" r="6.95"/>
<circle cx="517.0" cy="905.8" r="6.95"/>
<circle cx="520.1" cy="920.4" r="6.95"/>
<circle cx="481.4" cy="960.9" r="6.95"/>
<circle cx="512.4" cy="943.2" r="6.95"/>
<circle cx="477.5" cy="949.8" r="6.95"/>
<circle cx="545.5" cy="905.6" r="6.95"/>
<circle cx="507.5" cy="942.4" r="6.95"/>
<circle cx="507.7" cy="950.4" r="6.95"/>
<circle cx="523.2" cy="915.0" r="6.95"/>
<circle cx="526.5" cy="952.1" r="6.95"/>
<circle cx="506.7" cy="937.3" r="6.95"/>
<circle cx="522.3" cy="928.1" r="6.95"/>
<circle cx="472.5" cy="922.5" r="6.95"/>
<circle cx="535.4" cy="948.1" r="6.95"/>
<circle cx="471.2" cy="928.2" r="6.95"/>
<circle cx="518.0" cy="932.7" r="6.95"/>
<circle cx="478.1" cy="941.9" r="6.95"/>
<circle cx="528.0" cy="932.9" r="6.95"/>
<circle cx="550.1" cy="936.3" r="6.95"/>
<circle cx="535.8" cy="965.4" r="6.95"/>
<circle cx="514.8" cy="934.3" r="6.95"/>
<circle cx="483.7" cy="893.0" r="6.95"/>
<circle cx="479.9" cy="905.8" r="6.95"/>
<circle cx="488.8" cy="906.6" r="6.95"/>
<circle cx="459.3" cy="913.2" r="6.95"/>
<circle cx="486.6" cy="940.9" r="6.95"/>
<circle cx="472.0" cy="937.8" r="6.95"/>
<circle cx="497.0" cy="959.5" r="6.95"/>
<circle cx="552.7" cy="923.3" r="6.95"/>
<circle cx="458.2" cy="958.9" r="6.95"/>
<circle cx="546.4" cy="921.2" r="6.95"/>
<circle cx="533.3" cy="910.2" r="6.95"/>
<circle cx="476.1" cy="938.1" r="6.95"/>
<circle cx="543.1" cy="967.2" r="6.95"/>
<circle cx="497.3" cy="891.9" r="6.95"/>
<circle cx="529.0" cy="888.1" r="6.95"/>
<circle cx="505.9" cy="930.7" r="6.95"/>
<circle cx="460.9" cy="930.7" r="6.95"/>
<circle cx="512.0" cy="918.1" r="6.95"/>
<circle cx="564.5" cy="904.0" r="6.95"/>
<circle cx="460.1" cy="956.3" r="6.95"/>
<circle cx="480.1" cy="890.8" r="6.95"/>
<circle cx="482.9" cy="922.0" r="6.95"/>
<circle cx="543.6" cy="928.6" r="6.95"/>
<circle cx="485.3" cy="953.1" r="6.95"/>
<circle cx="537.2" cy="961.6" r="6.95"/>
<circle cx="512.8" cy="950.8" r="6.95"/>
<circle cx="447.0" cy="925.8" r="6.95"/>
<circle cx="481.7" cy="885.9" r="6.95"/>
<circle cx="467.8" cy="908.7" r="6.95"/>
<circle cx="507.6" cy="888.9" r="6.95"/>
<circle cx="528.2" cy="976.0" r="6.95"/>
<circle cx="536.7" cy="883.9" r="6.95"/>
<circle cx="532.0" cy="948.2" r="6.95"/>
<circle cx="532.5" cy="984.1" r="6.95"/>
<circle cx="569.7" cy="940.9" r="6.95"/>
<circle cx="523.9" cy="985.1" r="6.95"/>
<circle cx="473.1" cy="934.0" r="6.95"/>
<circle cx="453.1" cy="964.2" r="6.95"/>
<circle cx="532.6" cy="900.1" r="6.95"/>
<circle cx="471.3" cy="935.7" r="6.95"/>
<circle cx="545.8" cy="891.6" r="6.95"/>
<circle cx="488.3" cy="934.4" r="6.95"/>
<circle cx="479.9" cy="976.7" r="6.95"/>
<circle cx="530.9" cy="953.6" r="6.95"/>
<circle cx="483.2" cy="933.5" r="6.95"/>
<circle cx="502.5" cy="930.6" r="6.95"/>
<circle cx="465.6" cy="928.3" r="6.95"/>
<circle cx="569.8" cy="934.5" r="6.95"/>
<circle cx="561.5" cy="905.8" r="6.95"/>
<circle cx="507.5" cy="919.3" r="6.95"/>
<circle cx="488.4" cy="918.2" r="6.95"/>
<circle cx="504.6" cy="971.8" r="6.95"/>
<circle cx="534.5" cy="936.3" r="6.95"/>
<circle cx="500.3" cy="880.8" r="6.95"/>
<circle cx="493.4" cy="912.2" r="6.95"/>
<circle cx="494.1" cy="943.6" r="6.95"/>
<circle cx="494.1" cy="909.8" r="6.95"/>
<circle cx="497.5" cy="986.7" r="6.95"/>
<circle cx="467.1" cy="951.6" r="6.95"/>
<circle cx="519.3" cy="956.8" r="6.95"/>
<circle cx="513.9" cy="975.5" r="6.95"/>
<circle cx="523.8" cy="881.5" r="6.95"/>
<circle cx="536.5" cy="945.9" r="6.95"/>
<circle cx="477.8" cy="959.2" r="6.95"/>
<circle cx="557.1" cy="907.7" r="6.95"/>
<circle cx="464.7" cy="909.0" r="6.95"/>
<circle cx="524.0" cy="926.7" r="6.95"/>
<circle cx="454.5" cy="927.3" r="6.95"/>
<circle cx="518.3" cy="941.9" r="6.95"/>
<circle cx="492.4" cy="965.4" r="6.95"/>
<circle cx="535.8" cy="905.6" r="6.95"/>
<circle cx="491.4" cy="981.3" r="6.95"/>
<circle cx="474.5" cy="927.0" r="6.95"/>
<circle cx="485.7" cy="942.5" r="6.95"/>
<circle cx="551.7" cy="890.2" r="6.95"/>
<circle cx="461.7" cy="935.4" r="6.95"/>
<circle cx="510.5" cy="983.6" r="6.95"/>
<circle cx="505.7" cy="935.9" r="6.95"/>
<circle cx="486.4" cy="903.9" r="6.95"/>
<circle cx="550.7" cy="923.6" r="6.95"/>
<circle cx="463.1" cy="936.9" r="6.95"/>
<circle cx="465.8" cy="897.3" r="6.95"/>
<circle cx="526.5" cy="886.0" r="6.95"/>
<circle cx="546.5" cy="926.0" r="6.95"/>
<circle cx="453.5" cy="952.8" r="6.95"/>
<circle cx="481.3" cy="931.4" r="6.95"/>
<circle cx="544.4" cy="921.3" r="6.95"/>
<circle cx="574.7" cy="924.3" r="6.95"/>
<circle cx="502.2" cy="878.3" r="6.95"/>
<circle cx="478.3" cy="896.7" r="6.95"/>
<circle cx="534.5" cy="983.9" r="6.95"/>
<circle cx="516.6" cy="883.4" r="6.95"/>
<circle cx="537.3" cy="911.5" r="6.95"/>
<circle cx="452.3" cy="917.4" r="6.95"/>
<circle cx="469.0" cy="948.9" r="6.95"/>
<circle cx="510.5" cy="904.8" r="6.95"/>
<circle cx="529.2" cy="888.3" r="6.95"/>
<circle cx="472.9" cy="943.9" r="6.95"/>
<circle cx="481.3" cy="941.5" r="6.95"/>
<circle cx="487.2" cy="900.1" r="6.95"/>
<circle cx="510.8" cy="884.3" r="6.95"/>
<circle cx="475.4" cy="944.2" r="6.95"/>
<circle cx="468.6" cy="895.2" r="6.95"/>
<circle cx="496.3" cy="957.5" r="6.95"/>
<circle cx="478.6" cy="894.9" r="6.95"/>
<circle cx="510.3" cy="979.0" r="6.95"/>
<circle cx="500.7" cy="937.2" r="6.95"/>
<circle cx="577.4" cy="936.1" r="6.95"/>
<circle cx="491.4" cy="897.7" r="6.95"/>
<circle cx="514.9" cy="947.9" r="6.95"/>
<circle cx="524.4" cy="898.2" r="6.95"/>
<circle cx="537.4" cy="972.2" r="6.95"/>
<circle cx="557.9" cy="924.6" r="6.95"/>
<circle cx="529.5" cy="933.0" r="6.95"/>
<circle cx="448.1" cy="940.8" r="6.95"/>
<circle cx="532.2" cy="926.9" r="6.95"/>
<circle cx="479.1" cy="976.9" r="6.95"/>
<circle cx="535.1" cy="907.9" r="6.95"/>
<circle cx="497.0" cy="941.3" r="6.95"/>
<circle cx="539.1" cy="920.8" r="6.95"/>
<circle cx="473.7" cy="977.7" r="6.95"/>
<circle cx="491.8" cy="892.8" r="6.95"/>
<circle cx="498.1" cy="947.9" r="6.95"/>
<circle cx="514.1" cy="980.8" r="6.95"/>
<circle cx="509.7" cy="892.6" r="6.95"/>
<circle cx="518.5" cy="878.8" r="6.95"/>
<circle cx="533.5" cy="894.3" r="6.95"/>
<circle cx="510.3" cy="926.0" r="6.95"/>
<circle cx="482.8" cy="913.5" r="6.95"/>
<circle cx="514.7" cy="920.1" r="6.95"/>
<circle cx="571.6" cy="952.3" r="6.95"/>
<circle cx="551.8" cy="938.8" r="6.95"/>
<circle cx="471.9" cy="895.1" r="6.95"/>
<circle cx="470.3" cy="963.4" r="6.95"/>
<circle cx="534.8" cy="880.1" r="6.95"/>
<circle cx="484.0" cy="884.6" r="6.95"/>
<circle cx="515.3" cy="915.0" r="6.95"/>
<circle cx="509.7" cy="918.2" r="6.95"/>
<circle cx="499.0" cy="927.8" r="6.95"/>
<circle cx="550.5" cy="884.0" r="6.95"/>
<circle cx="546.7" cy="942.7" r="6.95"/>
<circle cx="551.2" cy="893.9" r="6.95"/>
<circle cx="483.5" cy="979.3" r="6.95"/>
<circle cx="573.7" cy="907.2" r="6.95"/>
<circle cx="495.4" cy="914.5" r="6.95"/>
<circle cx="488.9" cy="983.9" r="6.95"/>
<circle cx="512.2" cy="924.5" r="6.95"/>
<circle cx="566.2" cy="948.3" r="6.95"/>
<circle cx="570.8" cy="950.0" r="6.95"/>
<circle cx="504.2" cy="885.1" r="6.95"/>
<circle cx="511.6" cy="935.5" r="6.95"/>
<circle cx="527.8" cy="972.4" r="6.95"/>
<circle cx="494.0" cy="938.6" r="6.95"/>
<circle cx="555.5" cy="906.1" r="6.95"/>
<circle cx="555.5" cy="952.7" r="6.95"/>
<circle cx="487.2" cy="939.1" r="6.95"/>
<circle cx="551.5" cy="967.9" r="6.95"/>
<circle cx="477.6" cy="931.7" r="6.95"/>
<circle cx="534.0" cy="895.7" r="6.95"/>
<circle cx="547.5" cy="965.9" r="6.95"/>
<circle cx="523.0" cy="984.7" r="6.95"/>
<circle cx="487.3" cy="907.9" r="6.95"/>
<circle cx="575.4" cy="946.1" r="6.95"/>
<circle cx="487.4" cy="970.2" r="6.95"/>
<circle cx="535.9" cy="973.4" r="6.95"/>
<circle cx="460.3" cy="926.4" r="6.95"/>
<circle cx="523.1" cy="956.7" r="6.95"/>
<circle cx="481.7" cy="951.0" r="6.95"/>
<circle cx="519.2" cy="917.6" r="6.95"/>
<circle cx="512.8" cy="967.3" r="6.95"/>
<circle cx="550.9" cy="923.7" r="6.95"/>
<circle cx="551.4" cy="926.1" r="6.95"/>
<circle cx="508.4" cy="902.0" r="6.95"/>
<circle cx="511.9" cy="882.7" r="6.95"/>
<circle cx="558.5" cy="918.2" r="6.95"/>
<circle cx="493.1" cy="973.5" r="6.95"/>
<circle cx="537.0" cy="927.9" r="6.95"/>
<circle cx="560.7" cy="944.1" r="6.95"/>
<circle cx="560.5" cy="906.1" r="6.95"/>
<circle cx="498.7" cy="962.6" r="6.95"/>
<circle cx="575.7" cy="943.3" r="6.95"/>
<circle cx="546.5" cy="888.8" r="6.95"/>
<circle cx="460.1" cy="969.8" r="6.95"/>
<circle cx="548.3" cy="893.7" r="6.95"/>
<circle cx="551.4" cy="892.5" r="6.95"/>
<circle cx="516.3" cy="910.1" r="6.95"/>
<circle cx="547.1" cy="974.7" r="6.95"/>
<circle cx="465.8" cy="929.8" r="6.95"/>
<circle cx="532.0" cy="962.8" r="6.95"/>
<circle cx="528.7" cy="969.7" r="6.95"/>
<circle cx="462.1" cy="923.2" r="6.95"/>
<circle cx="528.9" cy="978.2" r="6.95"/>
<circle cx="500.4" cy="983.0" r="6.95"/>
<circle cx="516.1" cy="980.2" r="6.95"/>
<circle cx="472.4" cy="912.0" r="6.95"/>
<circle cx="516.6" cy="957.2" r="6.95"/>
<circle cx="524.6" cy="915.4" r="6.95"/>
<circle cx="468.5" cy="925.4" r="6.95"/>
<circle cx="420.0" cy="956.3" r="6.95"/>
<circle cx="420.5" cy="938.5" r="6.95"/>
<circle cx="436.9" cy="987.9" r="6.95"/>
<circle cx="425.7" cy="934.8" r="6.95"/>
<circle cx="416.4" cy="948.2" r="6.95"/>
<circle cx="440.2" cy="970.3" r="6.95"/>
<circle cx="406.7" cy="944.7" r="6.95"/>
<circle cx="427.2" cy="958.5" r="6.95"/>
<circle cx="428.0" cy="974.9" r="6.95"/>
<circle cx="389.3" cy="983.4" r="6.95"/>
<circle cx="422.9" cy="925.5" r="6.95"/>
<circle cx="445.9" cy="946.2" r="6.95"/>
<circle cx="405.6" cy="993.9" r="6.95"/>
<circle cx="402.0" cy="965.9" r="6.95"/>
<circle cx="410.5" cy="927.2" r="6.95"/>
<circle cx="420.9" cy="989.5" r="6.95"/>
<circle cx="390.9" cy="939.9" r="6.95"/>
<circle cx="408.9" cy="925.0" r="6.95"/>
<circle cx="414.8" cy="987.4" r="6.95"/>
<circle cx="426.1" cy="964.7" r="6.95"/>
<circle cx="439.9" cy="934.0" r="6.95"/>
<circle cx="419.7" cy="951.9" r="6.95"/>
<circle cx="422.1" cy="931.0" r="6.95"/>
<circle cx="391.6" cy="986.6" r="6.95"/>
<circle cx="446.3" cy="956.7" r="6.95"/>
<circle cx="409.0" cy="941.6" r="6.95"/>
<circle cx="399.2" cy="971.4" r="6.95"/>
<circle cx="392.5" cy="931.6" r="6.95"/>
<circle cx="411.9" cy="935.2" r="6.95"/>
<circle cx="425.4" cy="987.7" r="6.95"/>
<circle cx="434.4" cy="960.4" r="6.95"/>
<circle cx="404.3" cy="956.8" r="6.95"/>
<circle cx="403.2" cy="947.6" r="6.95"/>
<circle cx="385.6" cy="957.8" r="6.95"/>
<circle cx="420.8" cy="953.2" r="6.95"/>
<circle cx="440.9" cy="975.9" r="6.95"/>
<circle cx="396.9" cy="964.0" r="6.95"/>
<circle cx="443.7" cy="963.6" r="6.95"/>
<circle cx="422.1" cy="927.0" r="6.95"/>
<circle cx="414.3" cy="958.9" r="6.95"/>
<circle cx="408.1" cy="955.6" r="6.95"/>
<circle cx="420.9" cy="965.1" r="6.95"/>
<circle cx="414.3" cy="935.3" r="6.95"/>
<circle cx="410.9" cy="999.5" r="6.95"/>
<circle cx="409.1" cy="924.8" r="6.95"/>
<circle cx="387.6" cy="958.3" r="6.95"/>
<circle cx="412.1" cy="956.9" r="6.95"/>
<circle cx="415.1" cy="957.8" r="6.95"/>
<circle cx="430.8" cy="993.8" r="6.95"/>
<circle cx="428.9" cy="955.9" r="6.95"/>
<circle cx="425.5" cy="994.8" r="6.95"/>
<circle cx="390.8" cy="941.0" r="6.95"/>
<circle cx="423.3" cy="977.0" r="6.95"/>
<circle cx="425.0" cy="969.1" r="6.95"/>
<circle cx="438.1" cy="960.3" r="6.95"/>
<circle cx="410.5" cy="990.7" r="6.95"/>
<circle cx="430.3" cy="993.1" r="6.95"/>
<circle cx="433.7" cy="999.0" r="6.95"/>
<circle cx="426.9" cy="933.3" r="6.95"/>
<circle cx="421.7" cy="995.6" r="6.95"/>
<circle cx="571.1" cy="764.8" r="6.95"/>
<circle cx="559.0" cy="804.8" r="6.95"/>
<circle cx="528.2" cy="808.0" r="6.95"/>
<circle cx="519.0" cy="824.0" r="6.95"/>
<circle cx="457.0" cy="841.3" r="6.95"/>
<circle cx="486.8" cy="843.8" r="6.95"/>
<circle cx="505.2" cy="848.7" r="6.95"/>
<circle cx="501.6" cy="856.2" r="6.95"/>
<circle cx="524.3" cy="856.9" r="6.95"/>
<circle cx="590.9" cy="853.4" r="6.95"/>
<circle cx="456.3" cy="873.5" r="6.95"/>
<circle cx="421.9" cy="878.2" r="6.95"/>
<circle cx="500.2" cy="870.4" r="6.95"/>
<circle cx="579.6" cy="868.6" r="6.95"/>
<circle cx="563.3" cy="867.5" r="6.95"/>
<circle cx="562.6" cy="876.4" r="6.95"/>
<circle cx="541.3" cy="874.6" r="6.95"/>
<circle cx="528.9" cy="871.8" r="6.95"/>
<circle cx="598.0" cy="890.5" r="6.95"/>
<circle cx="603.3" cy="902.2" r="6.95"/>
<circle cx="768.7" cy="898.7" r="6.95"/>
<circle cx="580.3" cy="909.3" r="6.95"/>
<circle cx="303.3" cy="930.6" r="6.95"/>
<circle cx="396.8" cy="916.4" r="6.95"/>
<circle cx="418.4" cy="912.5" r="6.95"/>
<circle cx="428.0" cy="920.7" r="6.95"/>
<circle cx="605.1" cy="923.1" r="6.95"/>
<circle cx="610.4" cy="931.3" r="6.95"/>
<circle cx="702.5" cy="936.6" r="6.95"/>
<circle cx="581.3" cy="934.1" r="6.95"/>
<circle cx="571.4" cy="949.0" r="6.95"/>
<circle cx="603.3" cy="966.7" r="6.95"/>
<circle cx="598.0" cy="973.1" r="6.95"/>
<circle cx="632.4" cy="970.3" r="6.95"/>
<circle cx="376.6" cy="954.3" r="6.95"/>
<circle cx="369.5" cy="968.5" r="6.95"/>
<circle cx="360.7" cy="979.1" r="6.95"/>
<circle cx="363.5" cy="994.3" r="6.95"/>
<circle cx="311.1" cy="1001.1" r="6.95"/>
<circle cx="279.9" cy="1014.9" r="6.95"/>
<circle cx="325.9" cy="1023.4" r="6.95"/>
<circle cx="210.1" cy="1021.6" r="6.95"/>
<circle cx="206.6" cy="1021.6" r="6.95"/>
<circle cx="358.9" cy="1027.6" r="6.95"/>
<circle cx="362.4" cy="1029.8" r="6.95"/>
<circle cx="379.1" cy="1009.2" r="6.95"/>
<circle cx="403.9" cy="1001.1" r="6.95"/>
<circle cx="381.9" cy="1033.3" r="6.95"/>
<circle cx="391.8" cy="1034.0" r="6.95"/>
<circle cx="384.7" cy="1043.2" r="6.95"/>
<circle cx="403.2" cy="1024.4" r="6.95"/>
<circle cx="419.5" cy="1030.5" r="6.95"/>
<circle cx="392.5" cy="1052.4" r="6.95"/>
<circle cx="396.1" cy="1051.7" r="6.95"/>
<circle cx="390.8" cy="1055.3" r="6.95"/>
<circle cx="419.8" cy="1051.7" r="6.95"/>
<circle cx="416.3" cy="1059.5" r="6.95"/>
<circle cx="386.5" cy="1075.8" r="6.95"/>
<circle cx="418.0" cy="1085.4" r="6.95"/>
<circle cx="450.3" cy="1055.3" r="6.95"/>
<circle cx="447.8" cy="1073.0" r="6.95"/>
<circle cx="449.9" cy="1031.5" r="6.95"/>
<circle cx="440.4" cy="1021.6" r="6.95"/>
<circle cx="428.0" cy="1009.9" r="6.95"/>
<circle cx="434.3" cy="1012.0" r="6.95"/>
<circle cx="461.6" cy="1014.5" r="6.95"/>
<circle cx="466.2" cy="1043.9" r="6.95"/>
<circle cx="470.5" cy="1043.9" r="6.95"/>
<circle cx="482.9" cy="1048.2" r="6.95"/>
<circle cx="509.4" cy="1041.1" r="6.95"/>
<circle cx="532.5" cy="1050.3" r="6.95"/>
<circle cx="511.6" cy="1107.0" r="6.95"/>
<circle cx="372.3" cy="1120.1" r="6.95"/>
<circle cx="428.0" cy="994.3" r="6.95"/>
<circle cx="448.5" cy="997.9" r="6.95"/>
<circle cx="461.6" cy="998.6" r="6.95"/>
<circle cx="454.5" cy="1003.9" r="6.95"/>
<circle cx="487.5" cy="1000.4" r="6.95"/>
<circle cx="491.7" cy="1011.0" r="6.95"/>
<circle cx="511.2" cy="1002.1" r="6.95"/>
<circle cx="513.0" cy="1005.7" r="6.95"/>
<circle cx="544.9" cy="984.4" r="6.95"/>
<circle cx="557.3" cy="975.6" r="6.95"/>
<circle cx="562.6" cy="964.9" r="6.95"/>
<circle cx="562.8" cy="877.5" r="6.95"/>
<circle cx="427.6" cy="916.9" r="6.95"/>
<circle cx="428.4" cy="994.9" r="6.95"/>
<circle cx="545.7" cy="986.0" r="6.95"/>
<circle cx="458.1" cy="999.3" r="6.95"/>
<circle cx="447.7" cy="998.6" r="6.95"/>
<circle cx="397.1" cy="917.6" r="6.95"/>
<circle cx="377.1" cy="954.0" r="6.95"/>
<circle cx="403.1" cy="1001.6" r="6.95"/>
<circle cx="379.3" cy="1006.8" r="6.95"/>
</g>
<g fill="none" stroke="#0000ff" stroke-width="2.2">
<circle cx="1072" cy="1098.9" r="8.7"/>
<circle cx="1076.7" cy="1098.2" r="8.7"/>
<circle cx="1168.4" cy="1085" r="8.7"/>
<circle cx="1278.8" cy="1114.5" r="8.7"/>
</g>
<circle cx="524.3" cy="137.9" r="6.95" fill="#ff0000" stroke="#0000ff" stroke-width="2.2"/>
<circle cx="1549" cy="269.2" r="6.95" fill="#ff0000" stroke="#0000ff" stroke-width="2.2"/>
<circle cx="1599.4" cy="849.1" r="9.1" fill="#ff0000" stroke="#0000ff" stroke-width="2.1"/>
<line x1="538.8" y1="130.8" x2="586.5" y2="105.8" stroke="#ff0000" stroke-width="2.2"/>
<line x1="1562.8" y1="255" x2="1604.8" y2="208.1" stroke="#ff0000" stroke-width="2.2"/>
<line x1="179.25" y1="500" x2="179.25" y2="512" stroke="#000" stroke-width="2"/>
<text x="179.2" y="551" font-size="36" text-anchor="middle" fill="#000">-2</text>
<line x1="452.25" y1="500" x2="452.25" y2="512" stroke="#000" stroke-width="2"/>
<text x="452.2" y="551" font-size="36" text-anchor="middle" fill="#000">0</text>
<line x1="725.25" y1="500" x2="725.25" y2="512" stroke="#000" stroke-width="2"/>
<text x="725.2" y="551" font-size="36" text-anchor="middle" fill="#000">2</text>
<line x1="99" y1="500.0" x2="111" y2="500.0" stroke="#000" stroke-width="2"/>
<text x="93" y="511.5" font-size="36" text-anchor="end" fill="#000">0</text>
<line x1="99" y1="345.0" x2="111" y2="345.0" stroke="#000" stroke-width="2"/>
<text x="93" y="356.5" font-size="36" text-anchor="end" fill="#000">1</text>
<line x1="99" y1="190.0" x2="111" y2="190.0" stroke="#000" stroke-width="2"/>
<text x="93" y="201.5" font-size="36" text-anchor="end" fill="#000">2</text>
<line x1="99" y1="35.0" x2="111" y2="35.0" stroke="#000" stroke-width="2"/>
<text x="93" y="46.5" font-size="36" text-anchor="end" fill="#000">3</text>
<rect x="111" y="35" width="682.5" height="465" fill="none" stroke="#000" stroke-width="2"/>
<line x1="1057.5" y1="500" x2="1057.5" y2="512" stroke="#000" stroke-width="2"/>
<text x="1057.5" y="551" font-size="36" text-anchor="middle" fill="#000">-4</text>
<line x1="1228.25" y1="500" x2="1228.25" y2="512" stroke="#000" stroke-width="2"/>
<text x="1228.2" y="551" font-size="36" text-anchor="middle" fill="#000">-2</text>
<line x1="1399.0" y1="500" x2="1399.0" y2="512" stroke="#000" stroke-width="2"/>
<text x="1399.0" y="551" font-size="36" text-anchor="middle" fill="#000">0</text>
<line x1="1569.75" y1="500" x2="1569.75" y2="512" stroke="#000" stroke-width="2"/>
<text x="1569.8" y="551" font-size="36" text-anchor="middle" fill="#000">2</text>
<line x1="1740.5" y1="500" x2="1740.5" y2="512" stroke="#000" stroke-width="2"/>
<text x="1740.5" y="551" font-size="36" text-anchor="middle" fill="#000">4</text>
<line x1="1045.5" y1="500.0" x2="1057.5" y2="500.0" stroke="#000" stroke-width="2"/>
<text x="1039.5" y="511.5" font-size="36" text-anchor="end" fill="#000">0</text>
<line x1="1045.5" y1="383.75" x2="1057.5" y2="383.75" stroke="#000" stroke-width="2"/>
<text x="1039.5" y="395.2" font-size="36" text-anchor="end" fill="#000">1</text>
<line x1="1045.5" y1="267.5" x2="1057.5" y2="267.5" stroke="#000" stroke-width="2"/>
<text x="1039.5" y="279.0" font-size="36" text-anchor="end" fill="#000">2</text>
<line x1="1045.5" y1="151.25" x2="1057.5" y2="151.25" stroke="#000" stroke-width="2"/>
<text x="1039.5" y="162.8" font-size="36" text-anchor="end" fill="#000">3</text>
<line x1="1045.5" y1="35.0" x2="1057.5" y2="35.0" stroke="#000" stroke-width="2"/>
<text x="1039.5" y="46.5" font-size="36" text-anchor="end" fill="#000">4</text>
<rect x="1057.5" y="35" width="683.0" height="465" fill="none" stroke="#000" stroke-width="2"/>
<line x1="111.0" y1="1183.3" x2="111.0" y2="1195.3" stroke="#000" stroke-width="2"/>
<text x="111.0" y="1234.3" font-size="36" text-anchor="middle" fill="#000">-4</text>
<line x1="281.875" y1="1183.3" x2="281.875" y2="1195.3" stroke="#000" stroke-width="2"/>
<text x="281.9" y="1234.3" font-size="36" text-anchor="middle" fill="#000">-2</text>
<line x1="452.75" y1="1183.3" x2="452.75" y2="1195.3" stroke="#000" stroke-width="2"/>
<text x="452.8" y="1234.3" font-size="36" text-anchor="middle" fill="#000">0</text>
<line x1="623.625" y1="1183.3" x2="623.625" y2="1195.3" stroke="#000" stroke-width="2"/>
<text x="623.6" y="1234.3" font-size="36" text-anchor="middle" fill="#000">2</text>
<line x1="794.5" y1="1183.3" x2="794.5" y2="1195.3" stroke="#000" stroke-width="2"/>
<text x="794.5" y="1234.3" font-size="36" text-anchor="middle" fill="#000">4</text>
<line x1="99" y1="1136.87" x2="111" y2="1136.87" stroke="#000" stroke-width="2"/>
<text x="93" y="1148.4" font-size="36" text-anchor="end" fill="#000">-2</text>
<line x1="99" y1="951.15" x2="111" y2="951.15" stroke="#000" stroke-width="2"/>
<text x="93" y="962.6" font-size="36" text-anchor="end" fill="#000">0</text>
<line x1="99" y1="765.4300000000001" x2="111" y2="765.4300000000001" stroke="#000" stroke-width="2"/>
<text x="93" y="776.9" font-size="36" text-anchor="end" fill="#000">2</text>
<rect x="111" y="719" width="683.5" height="464.29999999999995" fill="none" stroke="#000" stroke-width="2"/>
<line x1="1171.75" y1="1183" x2="1171.75" y2="1195" stroke="#000" stroke-width="2"/>
<text x="1171.8" y="1234" font-size="36" text-anchor="middle" fill="#000">-2</text>
<line x1="1399.25" y1="1183" x2="1399.25" y2="1195" stroke="#000" stroke-width="2"/>
<text x="1399.2" y="1234" font-size="36" text-anchor="middle" fill="#000">0</text>
<line x1="1626.75" y1="1183" x2="1626.75" y2="1195" stroke="#000" stroke-width="2"/>
<text x="1626.8" y="1234" font-size="36" text-anchor="middle" fill="#000">2</text>
<line x1="1046" y1="1144.3333333333333" x2="1058" y2="1144.3333333333333" stroke="#000" stroke-width="2"/>
<text x="1040" y="1155.8" font-size="36" text-anchor="end" fill="#000">-1</text>
<line x1="1046" y1="951.0" x2="1058" y2="951.0" stroke="#000" stroke-width="2"/>
<text x="1040" y="962.5" font-size="36" text-anchor="end" fill="#000">0</text>
<line x1="1046" y1="757.6666666666666" x2="1058" y2="757.6666666666666" stroke="#000" stroke-width="2"/>
<text x="1040" y="769.2" font-size="36" text-anchor="end" fill="#000">1</text>
<rect x="1058" y="719" width="682.5" height="464" fill="none" stroke="#000" stroke-width="2"/>
<text x="124.88" y="84.5" font-size="38.5" fill="#000" textLength="98.66" lengthAdjust="spacingAndGlyphs">ΔrlmN</text>
<text x="1063.72" y="82.5" font-size="38.5" fill="#000" textLength="182.73" lengthAdjust="spacingAndGlyphs">Menadione</text>
<text x="138.51" y="776.4" font-size="38.5" fill="#000" textLength="141.06" lengthAdjust="spacingAndGlyphs">R=0.448</text>
<text x="1086.1" y="776.4" font-size="38.5" fill="#000" textLength="141.89" lengthAdjust="spacingAndGlyphs">R=0.900</text>
<text x="600.04" y="110.6" font-size="38.5" font-style="italic" fill="#ff0000" textLength="90.05" lengthAdjust="spacingAndGlyphs">SodA</text>
<text x="1604.84" y="201.2" font-size="38.5" font-style="italic" fill="#ff0000" textLength="90.67" lengthAdjust="spacingAndGlyphs">SodA</text>
<text x="1635.64" y="840.6" font-size="38.5" font-style="italic" fill="#ff0000" textLength="90.46" lengthAdjust="spacingAndGlyphs">SodA</text>
<text x="298.46" y="597.6" font-size="38.5" fill="#000" textLength="309.15" lengthAdjust="spacingAndGlyphs">Log<tspan font-size="28" dy="9">2</tspan><tspan dy="-9"> (fold change)</tspan></text>
<text x="1246.17" y="597.7" font-size="38.5" fill="#000" textLength="307.72" lengthAdjust="spacingAndGlyphs">Log<tspan font-size="28" dy="9">2</tspan><tspan dy="-9"> (fold change)</tspan></text>
<text x="202.09" y="1280.9" font-size="38.5" fill="#000" textLength="501.8" lengthAdjust="spacingAndGlyphs">Menadione Log<tspan font-size="28" dy="9">2</tspan><tspan dy="-9"> (fold change)</tspan></text>
<text x="1148.79" y="1280.9" font-size="38.5" fill="#000" textLength="501.8" lengthAdjust="spacingAndGlyphs">Menadione Log<tspan font-size="28" dy="9">2</tspan><tspan dy="-9"> (fold change)</tspan></text>
<text x="0" y="0" font-size="38.5" fill="#000" textLength="263.11" lengthAdjust="spacingAndGlyphs" transform="translate(46.9,399.64) rotate(-90)">-Log<tspan font-size="28" dy="9">10</tspan><tspan dy="-9"> (p-value)</tspan></text>
<text x="0" y="0" font-size="38.5" fill="#000" textLength="263.11" lengthAdjust="spacingAndGlyphs" transform="translate(993.7,399.64) rotate(-90)">-Log<tspan font-size="28" dy="9">10</tspan><tspan dy="-9"> (p-value)</tspan></text>
<text x="0" y="0" font-size="38.5" fill="#000" textLength="416.26" lengthAdjust="spacingAndGlyphs" transform="translate(35.4,1159.06) rotate(-90)">ΔrlmN Log<tspan font-size="28" dy="9">2</tspan><tspan dy="-9"> (fold change)</tspan></text>
<text x="0" y="0" font-size="38.5" fill="#000" textLength="416.46" lengthAdjust="spacingAndGlyphs" transform="translate(981.9,1159.26) rotate(-90)">ΔrlmN Log<tspan font-size="28" dy="9">2</tspan><tspan dy="-9"> (fold change)</tspan></text>
<text x="-1.86" y="41.3" font-size="58" font-weight="bold" fill="#000" textLength="29.98" lengthAdjust="spacingAndGlyphs">a</text>
<text x="936.78" y="41.3" font-size="58" font-weight="bold" fill="#000" textLength="37.39" lengthAdjust="spacingAndGlyphs">b</text>
<text x="-2.04" y="708.0" font-size="58" font-weight="bold" fill="#000" textLength="32.96" lengthAdjust="spacingAndGlyphs">c</text>
<text x="921.93" y="708.0" font-size="58" font-weight="bold" fill="#000" textLength="36.62" lengthAdjust="spacingAndGlyphs">d</text>
</svg></body></html>
